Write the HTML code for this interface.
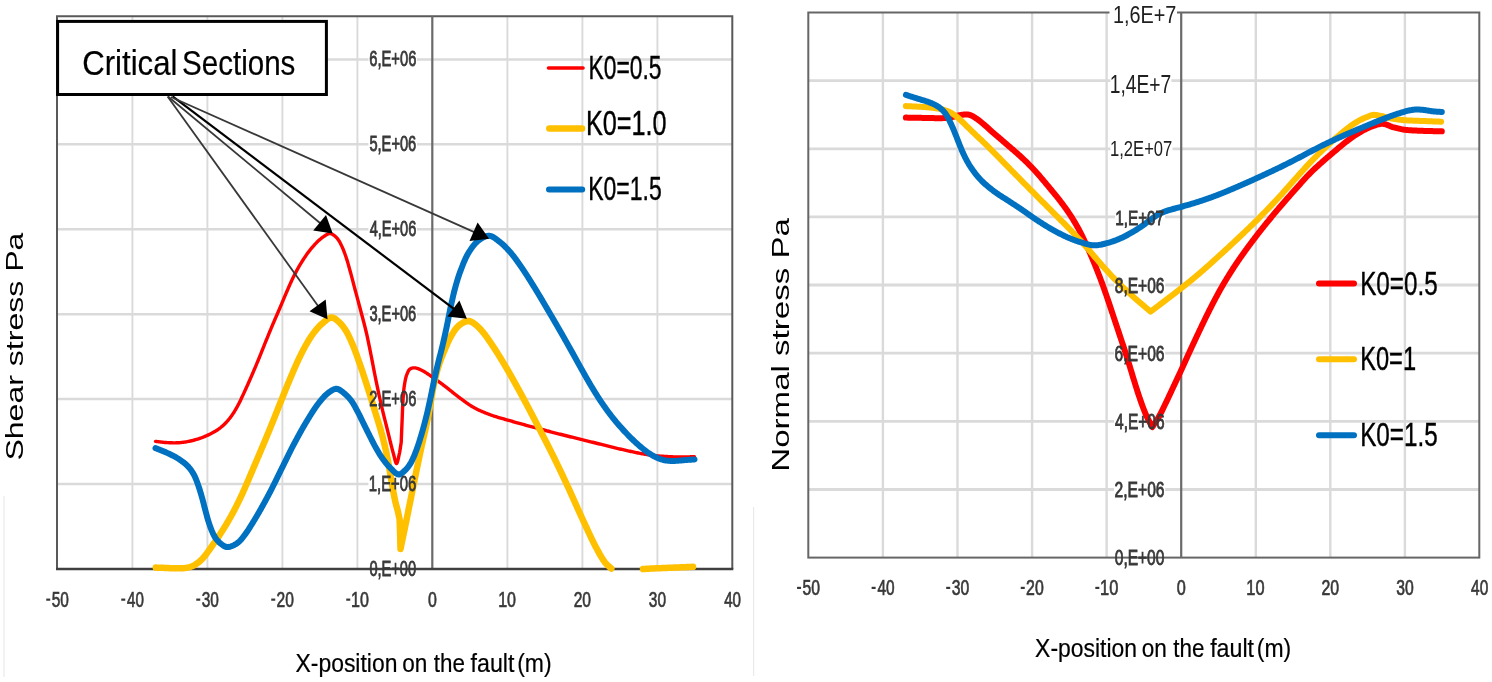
<!DOCTYPE html>
<html><head><meta charset="utf-8"><style>
html,body{margin:0;padding:0;background:#fff;}
svg{display:block;}
text{font-family:"Liberation Sans",sans-serif;font-size:100px;}
</style></head><body>
<svg width="1492" height="682" viewBox="0 0 1492 682">
<defs><filter id="soft" x="0" y="0" width="1" height="1" filterUnits="objectBoundingBox" color-interpolation-filters="sRGB"><feGaussianBlur stdDeviation="0.5"/></filter></defs>
<g filter="url(#soft)">
<rect width="1492" height="682" fill="#fff"/>
<g stroke="#DADADA" stroke-width="2.5"><line x1="57.0" y1="484.1" x2="732.3" y2="484.1"/><line x1="57.0" y1="399.1" x2="732.3" y2="399.1"/><line x1="57.0" y1="314.2" x2="732.3" y2="314.2"/><line x1="57.0" y1="229.3" x2="732.3" y2="229.3"/><line x1="57.0" y1="144.3" x2="732.3" y2="144.3"/><line x1="57.0" y1="59.4" x2="732.3" y2="59.4"/></g>
<g stroke="#DADADA" stroke-width="1.9"><line x1="132.4" y1="16.3" x2="132.4" y2="569"/><line x1="207.4" y1="16.3" x2="207.4" y2="569"/><line x1="282.4" y1="16.3" x2="282.4" y2="569"/><line x1="357.4" y1="16.3" x2="357.4" y2="569"/><line x1="507.4" y1="16.3" x2="507.4" y2="569"/><line x1="582.4" y1="16.3" x2="582.4" y2="569"/><line x1="657.4" y1="16.3" x2="657.4" y2="569"/></g>
<path d="M57.0,569 L57.0,16.3 L732.3,16.3 L732.3,569" fill="none" stroke="#595959" stroke-width="2"/>
<line x1="432.3" y1="16.3" x2="432.3" y2="569" stroke="#6A6A6A" stroke-width="2.2"/>
<line x1="56.0" y1="569" x2="733.3" y2="569" stroke="#404040" stroke-width="2.4"/>
<rect x="368.4" y="476.1" width="48.6" height="14.0" fill="#fff"/>
<rect x="368.4" y="391.1" width="48.6" height="14.0" fill="#fff"/>
<rect x="368.4" y="306.2" width="48.6" height="14.0" fill="#fff"/>
<rect x="368.4" y="221.3" width="48.6" height="14.0" fill="#fff"/>
<rect x="368.4" y="136.3" width="48.6" height="14.0" fill="#fff"/>
<rect x="368.4" y="51.4" width="48.6" height="14.0" fill="#fff"/>
<rect x="46.25" y="598.55" width="4.0" height="2.2" fill="#383838"/><text transform="matrix(0.15437 0 0 0.22553 51.73 607.49)" fill="#383838" stroke="#383838" stroke-width="0.6" vector-effect="non-scaling-stroke">50</text>
<rect x="121.25" y="598.55" width="4.0" height="2.2" fill="#383838"/><text transform="matrix(0.15143 0 0 0.22553 127.05 607.49)" fill="#383838" stroke="#383838" stroke-width="0.6" vector-effect="non-scaling-stroke">40</text>
<rect x="196.25" y="598.55" width="4.0" height="2.2" fill="#383838"/><text transform="matrix(0.15437 0 0 0.22553 201.73 607.49)" fill="#383838" stroke="#383838" stroke-width="0.6" vector-effect="non-scaling-stroke">30</text>
<rect x="271.25" y="598.55" width="4.0" height="2.2" fill="#383838"/><text transform="matrix(0.15588 0 0 0.22553 276.57 607.49)" fill="#383838" stroke="#383838" stroke-width="0.6" vector-effect="non-scaling-stroke">20</text>
<rect x="346.25" y="598.55" width="4.0" height="2.2" fill="#383838"/><text transform="matrix(0.16061 0 0 0.22553 351.07 607.49)" fill="#383838" stroke="#383838" stroke-width="0.6" vector-effect="non-scaling-stroke">10</text>
<text transform="matrix(0.15937 0 0 0.22553 427.94 607.49)" fill="#383838" stroke="#383838" stroke-width="0.6" vector-effect="non-scaling-stroke">0</text>
<text transform="matrix(0.16061 0 0 0.22553 498.17 607.49)" fill="#383838" stroke="#383838" stroke-width="0.6" vector-effect="non-scaling-stroke">10</text>
<text transform="matrix(0.15588 0 0 0.22553 573.67 607.49)" fill="#383838" stroke="#383838" stroke-width="0.6" vector-effect="non-scaling-stroke">20</text>
<text transform="matrix(0.15437 0 0 0.22553 648.83 607.49)" fill="#383838" stroke="#383838" stroke-width="0.6" vector-effect="non-scaling-stroke">30</text>
<text transform="matrix(0.15143 0 0 0.22553 724.15 607.49)" fill="#383838" stroke="#383838" stroke-width="0.6" vector-effect="non-scaling-stroke">40</text>
<text transform="matrix(0.22920 0 0 0.26667 295.51 671.67)" fill="#000" stroke="#000" stroke-width="0.2" vector-effect="non-scaling-stroke">X-position</text>
<text transform="matrix(0.22574 0 0 0.26667 402.20 671.67)" fill="#000" stroke="#000" stroke-width="0.2" vector-effect="non-scaling-stroke">on</text>
<text transform="matrix(0.22406 0 0 0.26667 433.75 671.67)" fill="#000" stroke="#000" stroke-width="0.2" vector-effect="non-scaling-stroke">the</text>
<text transform="matrix(0.23209 0 0 0.26667 470.57 671.67)" fill="#000" stroke="#000" stroke-width="0.2" vector-effect="non-scaling-stroke">fault</text>
<text transform="matrix(0.22971 0 0 0.26667 517.22 671.67)" fill="#000" stroke="#000" stroke-width="0.2" vector-effect="non-scaling-stroke">(m)</text>
<text transform="matrix(0 -0.32068 0.24823 0 23.38 460.60)" fill="#000">Shear stress Pa</text>
<path d="M155.50,441.40 L156.55,441.51 L157.60,441.63 L158.65,441.75 L159.70,441.88 L160.75,442.00 L161.80,442.13 L162.85,442.24 L163.90,442.35 L164.95,442.46 L166.01,442.54 L167.06,442.62 L168.12,442.67 L169.12,442.72 L170.12,442.76 L171.12,442.79 L172.13,442.81 L173.13,442.83 L174.14,442.84 L175.15,442.83 L176.16,442.82 L177.17,442.79 L178.18,442.75 L179.19,442.69 L180.19,442.62 L181.20,442.52 L182.23,442.41 L183.25,442.29 L184.28,442.15 L185.32,441.99 L186.35,441.82 L187.38,441.64 L188.41,441.44 L189.44,441.23 L190.46,441.01 L191.48,440.78 L192.50,440.53 L193.52,440.27 L194.53,440.00 L195.54,439.72 L196.55,439.42 L197.56,439.11 L198.58,438.78 L199.59,438.44 L200.59,438.09 L201.59,437.73 L202.59,437.36 L203.57,436.97 L204.55,436.58 L205.51,436.18 L206.46,435.77 L207.40,435.35 L208.35,434.91 L209.29,434.47 L210.23,434.01 L211.16,433.55 L212.08,433.07 L212.99,432.58 L213.88,432.08 L214.77,431.58 L215.63,431.06 L216.48,430.52 L217.31,429.98 L218.12,429.42 L219.01,428.79 L219.87,428.14 L220.71,427.48 L221.53,426.80 L222.33,426.11 L223.12,425.40 L223.89,424.68 L224.65,423.95 L225.39,423.21 L226.12,422.45 L226.85,421.68 L227.55,420.89 L228.24,420.09 L228.91,419.28 L229.58,418.45 L230.23,417.62 L230.86,416.77 L231.49,415.90 L232.11,415.03 L232.72,414.15 L233.29,413.31 L233.84,412.46 L234.39,411.60 L234.92,410.73 L235.44,409.85 L235.96,408.96 L236.47,408.06 L236.98,407.15 L237.48,406.23 L237.98,405.31 L238.48,404.38 L238.95,403.46 L239.42,402.54 L239.89,401.61 L240.34,400.67 L240.80,399.72 L241.24,398.77 L241.69,397.80 L242.14,396.83 L242.59,395.85 L243.05,394.86 L243.51,393.86 L243.97,392.85 L244.39,391.95 L244.81,391.04 L245.23,390.12 L245.66,389.20 L246.08,388.27 L246.51,387.33 L246.94,386.38 L247.37,385.43 L247.80,384.47 L248.23,383.50 L248.67,382.53 L249.10,381.55 L249.54,380.56 L249.98,379.56 L250.42,378.55 L250.82,377.65 L251.21,376.75 L251.61,375.83 L252.01,374.91 L252.41,373.98 L252.82,373.04 L253.22,372.09 L253.63,371.14 L254.03,370.19 L254.44,369.23 L254.85,368.27 L255.26,367.30 L255.67,366.33 L256.07,365.36 L256.48,364.39 L256.89,363.42 L257.29,362.44 L257.70,361.47 L258.10,360.50 L258.48,359.59 L258.85,358.67 L259.23,357.75 L259.61,356.82 L259.98,355.89 L260.36,354.95 L260.73,354.02 L261.11,353.08 L261.49,352.14 L261.86,351.20 L262.24,350.26 L262.61,349.32 L262.98,348.38 L263.36,347.44 L263.73,346.51 L264.10,345.58 L264.47,344.65 L264.84,343.73 L265.21,342.81 L265.58,341.90 L265.95,341.00 L266.35,340.01 L266.76,339.03 L267.16,338.04 L267.56,337.07 L267.96,336.09 L268.35,335.12 L268.75,334.15 L269.15,333.19 L269.54,332.23 L269.94,331.27 L270.34,330.31 L270.73,329.36 L271.13,328.41 L271.52,327.46 L271.91,326.52 L272.31,325.58 L272.70,324.64 L273.10,323.70 L273.50,322.76 L273.90,321.82 L274.30,320.89 L274.70,319.96 L275.10,319.03 L275.50,318.11 L275.90,317.19 L276.30,316.27 L276.70,315.36 L277.10,314.45 L277.49,313.53 L277.89,312.62 L278.29,311.70 L278.69,310.79 L279.08,309.87 L279.48,308.95 L279.88,308.02 L280.27,307.10 L280.66,306.17 L281.06,305.23 L281.45,304.30 L281.84,303.36 L282.23,302.43 L282.62,301.49 L283.01,300.56 L283.40,299.62 L283.79,298.69 L284.18,297.76 L284.57,296.82 L284.96,295.89 L285.36,294.97 L285.75,294.04 L286.15,293.12 L286.55,292.20 L286.97,291.24 L287.38,290.29 L287.80,289.33 L288.21,288.37 L288.63,287.42 L289.04,286.47 L289.46,285.51 L289.88,284.57 L290.30,283.62 L290.73,282.68 L291.15,281.74 L291.58,280.81 L292.02,279.88 L292.46,278.95 L292.90,278.04 L293.35,277.12 L293.82,276.19 L294.29,275.26 L294.76,274.34 L295.24,273.41 L295.72,272.49 L296.21,271.58 L296.70,270.67 L297.19,269.76 L297.69,268.86 L298.18,267.97 L298.68,267.09 L299.18,266.22 L299.69,265.35 L300.19,264.49 L300.70,263.65 L301.24,262.76 L301.79,261.88 L302.34,261.00 L302.90,260.13 L303.45,259.26 L304.01,258.41 L304.57,257.57 L305.14,256.74 L305.70,255.92 L306.26,255.12 L306.82,254.33 L307.37,253.56 L307.93,252.80 L308.61,251.88 L309.29,250.98 L309.98,250.11 L310.66,249.26 L311.34,248.42 L312.02,247.61 L312.70,246.81 L313.37,246.04 L314.05,245.27 L314.82,244.43 L315.58,243.61 L316.35,242.81 L317.11,242.04 L317.88,241.29 L318.65,240.57 L319.43,239.88 L320.26,239.16 L321.10,238.46 L321.95,237.80 L322.80,237.16 L323.66,236.56 L324.52,236.00 L325.51,235.36 L326.51,234.70 L327.52,234.12 L328.52,233.69 L329.50,233.50 L330.62,233.62 L331.74,234.02 L332.83,234.59 L333.88,235.25 L334.76,235.90 L335.61,236.65 L336.44,237.49 L337.23,238.40 L338.00,239.38 L338.55,240.15 L339.08,240.97 L339.60,241.84 L340.09,242.74 L340.58,243.68 L341.06,244.64 L341.53,245.63 L342.00,246.63 L342.39,247.48 L342.77,248.36 L343.15,249.25 L343.52,250.17 L343.88,251.10 L344.24,252.04 L344.60,253.00 L344.95,253.98 L345.30,254.97 L345.65,255.98 L346.00,257.00 L346.31,257.94 L346.62,258.89 L346.93,259.86 L347.23,260.84 L347.53,261.84 L347.83,262.84 L348.12,263.86 L348.42,264.89 L348.71,265.93 L349.01,266.98 L349.30,268.03 L349.60,269.10 L349.90,270.17 L350.20,271.25 L350.47,272.20 L350.73,273.17 L350.99,274.14 L351.26,275.13 L351.52,276.12 L351.79,277.11 L352.05,278.12 L352.31,279.13 L352.58,280.15 L352.85,281.17 L353.11,282.20 L353.38,283.24 L353.65,284.27 L353.92,285.31 L354.20,286.36 L354.47,287.40 L354.75,288.45 L355.02,289.50 L355.28,290.47 L355.55,291.44 L355.81,292.42 L356.07,293.41 L356.34,294.40 L356.61,295.39 L356.88,296.39 L357.15,297.39 L357.43,298.40 L357.70,299.40 L357.97,300.41 L358.24,301.42 L358.52,302.43 L358.79,303.44 L359.06,304.46 L359.34,305.47 L359.61,306.48 L359.88,307.49 L360.14,308.49 L360.41,309.50 L360.67,310.50 L360.94,311.50 L361.20,312.50 L361.47,313.50 L361.73,314.50 L362.00,315.50 L362.26,316.49 L362.53,317.49 L362.79,318.49 L363.05,319.49 L363.32,320.49 L363.58,321.49 L363.84,322.49 L364.10,323.49 L364.35,324.49 L364.61,325.49 L364.86,326.49 L365.11,327.49 L365.35,328.49 L365.60,329.50 L365.84,330.50 L366.08,331.50 L366.31,332.50 L366.54,333.49 L366.76,334.48 L366.98,335.48 L367.20,336.47 L367.42,337.46 L367.63,338.45 L367.84,339.44 L368.05,340.43 L368.26,341.42 L368.47,342.41 L368.67,343.41 L368.88,344.41 L369.08,345.41 L369.29,346.41 L369.49,347.41 L369.70,348.42 L369.90,349.44 L370.11,350.45 L370.32,351.47 L370.52,352.50 L370.73,353.50 L370.93,354.50 L371.13,355.50 L371.33,356.52 L371.53,357.53 L371.72,358.56 L371.92,359.58 L372.12,360.61 L372.32,361.64 L372.51,362.67 L372.71,363.70 L372.91,364.74 L373.11,365.77 L373.30,366.80 L373.50,367.84 L373.70,368.87 L373.90,369.90 L374.10,370.92 L374.30,371.95 L374.50,372.97 L374.70,373.98 L374.90,374.99 L375.10,376.00 L375.30,377.01 L375.51,378.03 L375.72,379.05 L375.92,380.07 L376.13,381.09 L376.34,382.11 L376.55,383.13 L376.76,384.15 L376.97,385.17 L377.18,386.18 L377.39,387.19 L377.60,388.19 L377.81,389.20 L378.02,390.19 L378.23,391.18 L378.44,392.16 L378.64,393.14 L378.85,394.10 L379.06,395.06 L379.27,396.01 L379.47,396.95 L379.68,397.88 L379.92,398.97 L380.16,400.05 L380.40,401.11 L380.64,402.17 L380.88,403.21 L381.12,404.25 L381.36,405.28 L381.60,406.30 L381.84,407.31 L382.08,408.31 L382.31,409.31 L382.55,410.31 L382.79,411.30 L383.03,412.28 L383.26,413.27 L383.50,414.25 L383.75,415.28 L384.00,416.31 L384.25,417.33 L384.51,418.34 L384.76,419.34 L385.01,420.33 L385.26,421.33 L385.51,422.32 L385.76,423.30 L386.01,424.29 L386.26,425.28 L386.51,426.27 L386.75,427.26 L387.00,428.25 L387.24,429.24 L387.49,430.23 L387.73,431.22 L387.97,432.22 L388.21,433.21 L388.45,434.20 L388.70,435.19 L388.94,436.18 L389.18,437.16 L389.42,438.14 L389.66,439.12 L389.90,440.09 L390.14,441.05 L390.38,442.00 L390.64,443.03 L390.89,444.07 L391.15,445.09 L391.41,446.12 L391.67,447.13 L391.92,448.14 L392.18,449.15 L392.44,450.14 L392.70,451.12 L392.97,452.10 L393.23,453.05 L393.50,454.00 L393.83,455.21 L394.16,456.56 L394.50,457.96 L394.83,459.35 L395.17,460.65 L395.51,461.79 L395.85,462.69 L396.18,463.29 L396.50,463.50 L396.81,463.30 L397.13,462.73 L397.44,461.88 L397.75,460.81 L398.06,459.58 L398.35,458.27 L398.64,456.94 L398.92,455.66 L399.18,454.50 L399.38,453.57 L399.58,452.61 L399.76,451.63 L399.93,450.64 L400.10,449.63 L400.26,448.62 L400.41,447.59 L400.57,446.57 L400.72,445.54 L400.88,444.52 L401.03,443.51 L401.20,442.50 L401.20,442.50 L401.24,441.46 L401.29,440.41 L401.33,439.36 L401.37,438.31 L401.41,437.26 L401.46,436.21 L401.50,435.16 L401.54,434.11 L401.59,433.06 L401.63,432.00 L401.67,430.95 L401.71,429.91 L401.76,428.86 L401.80,427.82 L401.84,426.78 L401.89,425.74 L401.93,424.71 L401.97,423.68 L402.01,422.66 L402.06,421.64 L402.10,420.62 L402.14,419.57 L402.19,418.53 L402.23,417.48 L402.27,416.43 L402.31,415.39 L402.34,414.35 L402.38,413.31 L402.42,412.27 L402.46,411.24 L402.50,410.21 L402.54,409.19 L402.58,408.18 L402.63,407.17 L402.67,406.16 L402.72,405.17 L402.78,404.17 L402.83,403.19 L402.89,402.22 L402.95,401.25 L403.02,400.16 L403.09,399.07 L403.16,397.99 L403.23,396.92 L403.31,395.85 L403.38,394.79 L403.46,393.74 L403.54,392.70 L403.63,391.67 L403.73,390.65 L403.83,389.64 L403.94,388.64 L404.06,387.66 L404.19,386.70 L404.32,385.75 L404.49,384.66 L404.67,383.58 L404.84,382.50 L405.03,381.44 L405.23,380.40 L405.44,379.37 L405.66,378.38 L405.90,377.42 L406.16,376.49 L406.44,375.60 L406.75,374.75 L407.21,373.58 L407.68,372.44 L408.19,371.36 L408.75,370.39 L409.39,369.56 L410.12,368.90 L411.02,368.40 L412.02,368.08 L413.10,367.90 L414.22,367.86 L415.35,367.92 L416.25,368.07 L417.18,368.32 L418.13,368.66 L419.11,369.07 L420.10,369.53 L421.09,370.03 L422.10,370.55 L423.10,371.07 L423.97,371.55 L424.85,372.05 L425.73,372.59 L426.62,373.15 L427.51,373.73 L428.42,374.34 L429.33,374.96 L430.24,375.60 L431.17,376.24 L432.11,376.89 L433.05,377.55 L433.85,378.11 L434.67,378.68 L435.49,379.26 L436.32,379.86 L437.16,380.46 L438.00,381.07 L438.85,381.69 L439.70,382.32 L440.55,382.95 L441.41,383.59 L442.27,384.23 L443.13,384.88 L443.98,385.53 L444.84,386.18 L445.70,386.82 L446.50,387.44 L447.30,388.06 L448.10,388.68 L448.90,389.32 L449.70,389.96 L450.51,390.61 L451.31,391.25 L452.12,391.90 L452.93,392.56 L453.74,393.21 L454.55,393.86 L455.36,394.50 L456.18,395.14 L457.00,395.78 L457.82,396.41 L458.65,397.04 L459.47,397.65 L460.30,398.26 L461.13,398.87 L461.95,399.48 L462.78,400.09 L463.60,400.70 L464.43,401.31 L465.26,401.92 L466.09,402.52 L466.93,403.11 L467.77,403.70 L468.62,404.28 L469.47,404.85 L470.33,405.41 L471.20,405.96 L472.07,406.49 L472.96,407.02 L473.85,407.52 L474.76,408.03 L475.68,408.51 L476.61,408.99 L477.54,409.45 L478.48,409.91 L479.42,410.35 L480.37,410.78 L481.33,411.21 L482.29,411.63 L483.26,412.04 L484.24,412.44 L485.22,412.84 L486.22,413.23 L487.22,413.62 L488.23,414.01 L489.25,414.39 L490.28,414.77 L491.19,415.11 L492.11,415.43 L493.04,415.75 L493.98,416.07 L494.92,416.37 L495.87,416.67 L496.82,416.97 L497.78,417.26 L498.75,417.55 L499.72,417.83 L500.70,418.12 L501.68,418.40 L502.67,418.68 L503.67,418.96 L504.67,419.24 L505.68,419.52 L506.69,419.81 L507.71,420.09 L508.73,420.38 L509.76,420.68 L510.80,420.97 L511.71,421.24 L512.64,421.50 L513.57,421.77 L514.50,422.04 L515.44,422.30 L516.39,422.57 L517.35,422.84 L518.31,423.11 L519.27,423.38 L520.24,423.65 L521.21,423.92 L522.19,424.19 L523.17,424.46 L524.15,424.73 L525.13,425.00 L526.12,425.27 L527.11,425.54 L528.11,425.81 L529.10,426.08 L530.09,426.35 L531.09,426.62 L532.08,426.89 L533.08,427.16 L534.07,427.43 L535.07,427.69 L536.06,427.96 L537.05,428.23 L538.00,428.48 L538.96,428.73 L539.92,428.99 L540.88,429.24 L541.85,429.50 L542.81,429.75 L543.78,430.01 L544.75,430.26 L545.72,430.51 L546.69,430.77 L547.67,431.02 L548.64,431.27 L549.62,431.52 L550.59,431.78 L551.57,432.03 L552.54,432.28 L553.52,432.53 L554.50,432.78 L555.48,433.03 L556.45,433.28 L557.43,433.53 L558.40,433.78 L559.38,434.03 L560.35,434.27 L561.32,434.52 L562.30,434.77 L563.27,435.01 L564.23,435.26 L565.20,435.50 L566.19,435.75 L567.17,436.00 L568.15,436.24 L569.13,436.49 L570.11,436.73 L571.10,436.98 L572.07,437.22 L573.05,437.46 L574.03,437.70 L575.01,437.95 L575.99,438.19 L576.96,438.43 L577.94,438.67 L578.92,438.91 L579.90,439.15 L580.87,439.39 L581.85,439.63 L582.83,439.87 L583.81,440.11 L584.79,440.35 L585.77,440.59 L586.75,440.83 L587.73,441.07 L588.71,441.31 L589.69,441.55 L590.68,441.79 L591.66,442.03 L592.65,442.27 L593.62,442.51 L594.59,442.76 L595.56,443.00 L596.53,443.24 L597.51,443.49 L598.48,443.73 L599.46,443.98 L600.43,444.22 L601.41,444.47 L602.39,444.72 L603.37,444.97 L604.35,445.21 L605.32,445.46 L606.30,445.71 L607.28,445.95 L608.26,446.20 L609.24,446.44 L610.22,446.68 L611.20,446.92 L612.17,447.16 L613.15,447.40 L614.13,447.64 L615.10,447.87 L616.07,448.11 L617.05,448.33 L618.02,448.56 L618.99,448.79 L619.96,449.01 L620.92,449.22 L621.94,449.45 L622.95,449.68 L623.96,449.91 L624.97,450.14 L625.98,450.36 L627.00,450.59 L628.01,450.82 L629.02,451.04 L630.03,451.27 L631.04,451.49 L632.06,451.71 L633.06,451.93 L634.07,452.15 L635.08,452.36 L636.08,452.57 L637.09,452.77 L638.09,452.97 L639.09,453.17 L640.09,453.36 L641.08,453.55 L642.07,453.73 L643.06,453.91 L644.04,454.08 L645.03,454.25 L646.00,454.40 L646.98,454.56 L647.95,454.70 L649.00,454.85 L650.04,454.99 L651.08,455.13 L652.11,455.26 L653.14,455.38 L654.16,455.50 L655.18,455.61 L656.20,455.71 L657.22,455.82 L658.23,455.91 L659.24,456.00 L660.25,456.09 L661.26,456.17 L662.27,456.25 L663.28,456.32 L664.28,456.39 L665.29,456.45 L666.30,456.51 L667.30,456.57 L668.31,456.63 L669.32,456.68 L670.34,456.73 L671.35,456.78 L672.36,456.82 L673.37,456.85 L674.37,456.88 L675.38,456.90 L676.39,456.92 L677.39,456.93 L678.40,456.93 L679.41,456.93 L680.41,456.93 L681.42,456.93 L682.43,456.92 L683.43,456.91 L684.44,456.90 L685.44,456.88 L686.45,456.87 L687.46,456.86 L688.46,456.84 L689.47,456.83 L690.47,456.82 L691.48,456.81 L692.49,456.80 L693.49,456.80 L694.50,456.80" fill="none" stroke="#FF0000" stroke-width="3.4" stroke-linecap="round" stroke-linejoin="round"/>
<path d="M155.80,567.60 L156.84,567.64 L157.89,567.67 L158.93,567.71 L159.97,567.74 L161.01,567.78 L162.05,567.81 L163.10,567.85 L164.15,567.89 L165.20,567.92 L166.28,567.97 L167.37,568.02 L168.47,568.08 L169.56,568.13 L170.66,568.19 L171.76,568.24 L172.85,568.28 L173.93,568.31 L175.00,568.33 L176.02,568.34 L177.05,568.35 L178.08,568.35 L179.10,568.36 L180.11,568.35 L181.12,568.32 L182.10,568.28 L183.06,568.21 L184.00,568.12 L185.20,567.98 L186.37,567.81 L187.51,567.60 L188.62,567.36 L189.70,567.08 L190.75,566.75 L191.87,566.33 L192.95,565.84 L193.99,565.31 L195.00,564.74 L196.00,564.12 L196.83,563.57 L197.65,562.98 L198.45,562.36 L199.24,561.72 L200.00,561.05 L200.75,560.38 L201.48,559.67 L202.19,558.95 L202.88,558.21 L203.55,557.44 L204.22,556.67 L204.88,555.88 L205.54,555.04 L206.18,554.20 L206.82,553.34 L207.45,552.45 L208.09,551.55 L208.75,550.62 L209.33,549.82 L209.91,549.00 L210.50,548.16 L211.10,547.31 L211.71,546.44 L212.32,545.56 L212.94,544.66 L213.57,543.75 L214.16,542.91 L214.75,542.06 L215.34,541.20 L215.95,540.33 L216.56,539.45 L217.18,538.55 L217.80,537.65 L218.41,536.73 L219.03,535.81 L219.65,534.88 L220.21,534.02 L220.77,533.16 L221.33,532.30 L221.90,531.42 L222.46,530.54 L223.03,529.64 L223.60,528.74 L224.16,527.84 L224.73,526.92 L225.30,526.00 L225.86,525.06 L226.42,524.12 L226.95,523.25 L227.47,522.36 L227.99,521.47 L228.52,520.57 L229.04,519.67 L229.56,518.75 L230.09,517.83 L230.61,516.91 L231.13,515.98 L231.65,515.04 L232.16,514.10 L232.68,513.15 L233.19,512.20 L233.70,511.25 L234.17,510.37 L234.63,509.47 L235.10,508.58 L235.57,507.67 L236.03,506.76 L236.49,505.84 L236.95,504.92 L237.41,504.00 L237.87,503.08 L238.32,502.15 L238.78,501.23 L239.22,500.30 L239.67,499.38 L240.11,498.46 L240.54,497.54 L240.98,496.62 L241.42,495.68 L241.85,494.73 L242.29,493.79 L242.72,492.84 L243.14,491.89 L243.56,490.95 L243.98,490.00 L244.40,489.06 L244.81,488.12 L245.22,487.18 L245.63,486.24 L246.04,485.30 L246.44,484.36 L246.85,483.43 L247.25,482.50 L247.67,481.54 L248.08,480.59 L248.48,479.65 L248.88,478.70 L249.28,477.77 L249.68,476.83 L250.08,475.89 L250.48,474.95 L250.87,474.01 L251.27,473.07 L251.67,472.12 L252.08,471.16 L252.49,470.20 L252.90,469.23 L253.29,468.31 L253.68,467.40 L254.07,466.47 L254.47,465.55 L254.87,464.62 L255.26,463.68 L255.66,462.75 L256.07,461.81 L256.47,460.86 L256.87,459.92 L257.27,458.97 L257.68,458.02 L258.08,457.07 L258.49,456.11 L258.89,455.16 L259.30,454.20 L259.70,453.27 L260.09,452.33 L260.49,451.39 L260.89,450.44 L261.29,449.50 L261.69,448.55 L262.09,447.60 L262.49,446.65 L262.89,445.70 L263.29,444.74 L263.69,443.79 L264.10,442.83 L264.50,441.87 L264.90,440.91 L265.30,439.95 L265.70,438.99 L266.10,438.02 L266.48,437.10 L266.87,436.17 L267.25,435.24 L267.63,434.32 L268.01,433.39 L268.40,432.46 L268.78,431.54 L269.16,430.61 L269.54,429.67 L269.92,428.74 L270.31,427.80 L270.69,426.86 L271.07,425.91 L271.46,424.96 L271.85,424.00 L272.24,423.04 L272.63,422.07 L273.02,421.10 L273.39,420.19 L273.76,419.28 L274.13,418.36 L274.50,417.44 L274.87,416.51 L275.24,415.58 L275.61,414.64 L275.98,413.70 L276.36,412.76 L276.73,411.82 L277.11,410.87 L277.49,409.92 L277.86,408.96 L278.24,408.01 L278.62,407.05 L279.01,406.10 L279.39,405.14 L279.77,404.18 L280.15,403.22 L280.54,402.26 L280.92,401.30 L281.31,400.35 L281.69,399.39 L282.08,398.42 L282.47,397.45 L282.86,396.48 L283.25,395.51 L283.64,394.53 L284.04,393.55 L284.43,392.57 L284.83,391.59 L285.22,390.61 L285.62,389.63 L286.01,388.65 L286.41,387.67 L286.81,386.70 L287.20,385.73 L287.60,384.76 L288.00,383.80 L288.39,382.84 L288.79,381.89 L289.18,380.94 L289.58,380.00 L289.98,379.03 L290.39,378.06 L290.80,377.09 L291.21,376.12 L291.61,375.16 L292.02,374.19 L292.43,373.23 L292.84,372.28 L293.24,371.32 L293.65,370.38 L294.06,369.43 L294.47,368.49 L294.88,367.56 L295.29,366.63 L295.69,365.71 L296.10,364.79 L296.51,363.88 L296.93,362.98 L297.34,362.09 L297.75,361.20 L298.22,360.20 L298.68,359.22 L299.14,358.24 L299.61,357.27 L300.07,356.30 L300.53,355.35 L300.99,354.40 L301.46,353.45 L301.93,352.52 L302.39,351.59 L302.87,350.67 L303.34,349.75 L303.83,348.84 L304.31,347.94 L304.80,347.04 L305.30,346.15 L305.84,345.19 L306.38,344.24 L306.93,343.29 L307.47,342.35 L308.03,341.41 L308.58,340.48 L309.14,339.56 L309.71,338.65 L310.28,337.76 L310.86,336.87 L311.45,335.99 L312.05,335.13 L312.66,334.28 L313.27,333.45 L313.91,332.62 L314.55,331.79 L315.20,330.98 L315.86,330.17 L316.52,329.37 L317.19,328.59 L317.87,327.82 L318.56,327.07 L319.26,326.34 L319.96,325.63 L320.67,324.93 L321.39,324.27 L322.12,323.62 L322.94,322.92 L323.77,322.18 L324.63,321.43 L325.49,320.69 L326.37,319.98 L327.25,319.32 L328.12,318.73 L328.99,318.24 L329.85,317.85 L330.68,317.60 L331.50,317.50 L332.46,317.60 L333.40,317.89 L334.34,318.36 L335.26,318.95 L336.17,319.63 L337.06,320.37 L337.93,321.13 L338.77,321.88 L339.52,322.54 L340.24,323.25 L340.95,324.00 L341.64,324.79 L342.32,325.61 L342.99,326.46 L343.65,327.34 L344.29,328.24 L344.92,329.17 L345.55,330.12 L346.07,330.95 L346.57,331.79 L347.06,332.66 L347.54,333.55 L348.02,334.46 L348.48,335.38 L348.94,336.33 L349.40,337.29 L349.85,338.27 L350.30,339.27 L350.75,340.27 L351.20,341.30 L351.65,342.33 L352.10,343.37 L352.48,344.26 L352.85,345.15 L353.23,346.06 L353.60,346.98 L353.97,347.91 L354.34,348.86 L354.71,349.81 L355.08,350.77 L355.44,351.75 L355.81,352.73 L356.17,353.72 L356.53,354.72 L356.90,355.73 L357.26,356.74 L357.63,357.75 L357.99,358.78 L358.35,359.80 L358.72,360.83 L359.08,361.87 L359.45,362.90 L359.78,363.83 L360.10,364.76 L360.43,365.71 L360.76,366.66 L361.09,367.62 L361.42,368.58 L361.75,369.56 L362.08,370.53 L362.41,371.51 L362.74,372.50 L363.07,373.49 L363.40,374.48 L363.72,375.48 L364.05,376.48 L364.38,377.48 L364.71,378.48 L365.03,379.48 L365.36,380.48 L365.68,381.48 L366.00,382.48 L366.33,383.48 L366.65,384.48 L366.97,385.47 L367.28,386.46 L367.60,387.45 L367.91,388.43 L368.23,389.42 L368.54,390.41 L368.86,391.40 L369.17,392.39 L369.48,393.39 L369.79,394.38 L370.10,395.38 L370.41,396.37 L370.72,397.37 L371.03,398.36 L371.33,399.36 L371.64,400.35 L371.94,401.34 L372.25,402.33 L372.55,403.32 L372.85,404.31 L373.15,405.29 L373.45,406.28 L373.75,407.26 L374.05,408.23 L374.34,409.21 L374.64,410.17 L374.93,411.14 L375.22,412.10 L375.54,413.12 L375.85,414.14 L376.16,415.15 L376.48,416.15 L376.79,417.15 L377.10,418.15 L377.41,419.14 L377.71,420.13 L378.02,421.12 L378.33,422.10 L378.63,423.09 L378.93,424.08 L379.23,425.06 L379.53,426.05 L379.83,427.04 L380.12,428.03 L380.41,429.02 L380.70,430.02 L380.99,431.03 L381.27,432.04 L381.55,433.05 L381.82,434.08 L382.08,435.05 L382.34,436.03 L382.60,437.01 L382.85,438.00 L383.10,438.99 L383.35,439.97 L383.60,440.97 L383.84,441.96 L384.09,442.95 L384.33,443.95 L384.57,444.95 L384.80,445.95 L385.04,446.96 L385.27,447.97 L385.50,448.97 L385.73,449.99 L385.95,451.00 L386.18,452.01 L386.40,453.03 L386.62,454.05 L386.84,455.07 L387.05,456.10 L387.26,457.12 L387.48,458.15 L387.67,459.14 L387.87,460.15 L388.07,461.16 L388.26,462.19 L388.45,463.22 L388.63,464.25 L388.82,465.29 L389.00,466.34 L389.18,467.39 L389.36,468.44 L389.53,469.49 L389.71,470.54 L389.88,471.59 L390.05,472.63 L390.22,473.67 L390.39,474.71 L390.56,475.73 L390.73,476.76 L390.89,477.77 L391.06,478.77 L391.22,479.76 L391.39,480.74 L391.55,481.70 L391.72,482.65 L391.88,483.58 L392.05,484.50 L392.25,485.63 L392.46,486.74 L392.66,487.85 L392.86,488.96 L393.06,490.05 L393.25,491.13 L393.45,492.19 L393.64,493.25 L393.84,494.28 L394.03,495.30 L394.22,496.30 L394.41,497.29 L394.61,498.25 L394.80,499.18 L394.99,500.10 L395.18,500.99 L395.38,501.85 L395.64,502.97 L395.91,504.04 L396.18,505.05 L396.45,506.02 L396.71,506.97 L396.97,507.91 L397.23,508.84 L397.48,509.79 L397.73,510.75 L397.98,511.81 L398.22,512.87 L398.46,513.93 L398.69,514.99 L398.91,516.04 L399.14,517.09 L399.37,518.14 L399.60,519.20 L399.60,519.20 L399.64,520.22 L399.67,521.25 L399.71,522.28 L399.74,523.31 L399.78,524.33 L399.82,525.36 L399.85,526.39 L399.89,527.42 L399.93,528.44 L399.96,529.47 L400.00,530.49 L400.03,531.51 L400.06,532.53 L400.09,533.54 L400.13,534.55 L400.16,535.60 L400.19,536.64 L400.21,537.68 L400.24,538.71 L400.27,539.74 L400.29,540.77 L400.32,541.80 L400.35,542.83 L400.37,543.86 L400.40,544.88 L400.42,545.91 L400.45,546.94 L400.47,547.97 L400.50,549.00 L400.50,549.00 L400.71,547.99 L400.92,546.97 L401.13,545.96 L401.34,544.95 L401.55,543.95 L401.76,542.94 L401.97,541.93 L402.17,540.93 L402.38,539.92 L402.59,538.91 L402.80,537.91 L403.01,536.90 L403.22,535.88 L403.43,534.87 L403.64,533.86 L403.85,532.84 L404.06,531.82 L404.27,530.79 L404.49,529.76 L404.70,528.73 L404.91,527.69 L405.12,526.65 L405.32,525.68 L405.52,524.70 L405.72,523.72 L405.92,522.73 L406.13,521.75 L406.33,520.76 L406.53,519.77 L406.73,518.78 L406.93,517.78 L407.13,516.78 L407.33,515.79 L407.54,514.78 L407.74,513.78 L407.94,512.77 L408.15,511.77 L408.35,510.76 L408.56,509.75 L408.76,508.73 L408.96,507.72 L409.17,506.70 L409.38,505.68 L409.58,504.66 L409.79,503.64 L409.99,502.62 L410.20,501.60 L410.40,500.61 L410.60,499.62 L410.80,498.62 L411.00,497.62 L411.20,496.62 L411.41,495.61 L411.61,494.60 L411.81,493.59 L412.01,492.58 L412.21,491.57 L412.42,490.55 L412.62,489.54 L412.82,488.52 L413.03,487.50 L413.23,486.49 L413.44,485.47 L413.64,484.45 L413.85,483.43 L414.05,482.42 L414.26,481.40 L414.46,480.38 L414.67,479.37 L414.87,478.36 L415.08,477.35 L415.29,476.34 L415.49,475.33 L415.70,474.32 L415.90,473.33 L416.11,472.34 L416.32,471.34 L416.52,470.34 L416.73,469.34 L416.94,468.33 L417.15,467.33 L417.35,466.33 L417.56,465.33 L417.77,464.32 L417.98,463.32 L418.19,462.32 L418.40,461.32 L418.61,460.33 L418.82,459.33 L419.03,458.34 L419.23,457.35 L419.44,456.37 L419.65,455.38 L419.86,454.41 L420.07,453.43 L420.27,452.46 L420.48,451.50 L420.69,450.54 L420.89,449.59 L421.10,448.64 L421.30,447.70 L421.53,446.66 L421.75,445.63 L421.98,444.60 L422.21,443.58 L422.44,442.56 L422.67,441.55 L422.90,440.55 L423.13,439.55 L423.36,438.55 L423.58,437.56 L423.81,436.57 L424.04,435.59 L424.26,434.60 L424.48,433.62 L424.70,432.64 L424.92,431.67 L425.14,430.69 L425.36,429.72 L425.57,428.75 L425.78,427.77 L425.99,426.80 L426.20,425.82 L426.41,424.80 L426.63,423.79 L426.83,422.78 L427.04,421.77 L427.24,420.76 L427.45,419.76 L427.65,418.76 L427.85,417.77 L428.04,416.77 L428.24,415.78 L428.43,414.78 L428.63,413.79 L428.82,412.79 L429.01,411.79 L429.20,410.79 L429.39,409.79 L429.58,408.79 L429.77,407.78 L429.96,406.77 L430.15,405.75 L430.33,404.75 L430.51,403.75 L430.69,402.73 L430.86,401.72 L431.04,400.70 L431.21,399.68 L431.37,398.66 L431.54,397.63 L431.71,396.61 L431.88,395.58 L432.05,394.56 L432.22,393.54 L432.39,392.52 L432.56,391.50 L432.74,390.48 L432.92,389.47 L433.11,388.46 L433.30,387.46 L433.49,386.47 L433.69,385.48 L433.90,384.50 L434.12,383.48 L434.34,382.46 L434.57,381.45 L434.80,380.43 L435.03,379.42 L435.26,378.42 L435.50,377.42 L435.74,376.42 L435.98,375.43 L436.23,374.44 L436.48,373.45 L436.74,372.47 L437.00,371.49 L437.26,370.52 L437.54,369.56 L437.81,368.60 L438.09,367.64 L438.38,366.69 L438.68,365.75 L438.99,364.76 L439.32,363.79 L439.65,362.81 L439.98,361.84 L440.33,360.88 L440.68,359.92 L441.03,358.97 L441.39,358.02 L441.76,357.08 L442.13,356.15 L442.50,355.22 L442.87,354.29 L443.24,353.37 L443.62,352.46 L444.00,351.55 L444.37,350.65 L444.75,349.75 L445.18,348.74 L445.60,347.72 L446.03,346.71 L446.46,345.70 L446.90,344.70 L447.33,343.70 L447.77,342.72 L448.22,341.74 L448.67,340.78 L449.12,339.84 L449.58,338.91 L450.05,338.00 L450.52,337.11 L451.00,336.25 L451.53,335.32 L452.07,334.40 L452.61,333.49 L453.16,332.60 L453.71,331.72 L454.28,330.88 L454.85,330.06 L455.43,329.27 L456.02,328.51 L456.63,327.80 L457.25,327.12 L458.09,326.29 L458.96,325.51 L459.85,324.79 L460.76,324.12 L461.67,323.52 L462.59,322.97 L463.50,322.50 L464.59,321.99 L465.69,321.53 L466.80,321.19 L467.90,320.99 L469.00,321.00 L469.98,321.21 L470.96,321.59 L471.94,322.11 L472.92,322.73 L473.90,323.41 L474.88,324.12 L475.60,324.68 L476.33,325.27 L477.05,325.89 L477.77,326.55 L478.49,327.25 L479.22,327.99 L479.95,328.76 L480.69,329.56 L481.44,330.40 L482.20,331.27 L482.75,331.93 L483.31,332.61 L483.88,333.31 L484.45,334.04 L485.02,334.79 L485.60,335.56 L486.18,336.35 L486.76,337.15 L487.35,337.97 L487.94,338.81 L488.53,339.66 L489.13,340.52 L489.72,341.39 L490.32,342.27 L490.92,343.16 L491.52,344.05 L492.12,344.95 L492.72,345.85 L493.32,346.75 L493.84,347.53 L494.37,348.32 L494.89,349.13 L495.41,349.94 L495.94,350.76 L496.47,351.59 L497.00,352.42 L497.53,353.27 L498.07,354.12 L498.60,354.97 L499.14,355.84 L499.67,356.71 L500.21,357.58 L500.75,358.46 L501.29,359.35 L501.83,360.24 L502.37,361.13 L502.90,362.03 L503.44,362.93 L503.98,363.83 L504.52,364.73 L505.06,365.64 L505.59,366.55 L506.13,367.46 L506.67,368.37 L507.20,369.27 L507.70,370.12 L508.19,370.98 L508.69,371.83 L509.19,372.69 L509.68,373.56 L510.18,374.42 L510.68,375.30 L511.17,376.17 L511.67,377.05 L512.17,377.93 L512.66,378.81 L513.16,379.69 L513.66,380.58 L514.15,381.47 L514.65,382.36 L515.15,383.26 L515.64,384.16 L516.14,385.06 L516.64,385.96 L517.13,386.86 L517.63,387.77 L518.13,388.67 L518.62,389.58 L519.12,390.49 L519.62,391.40 L520.11,392.32 L520.61,393.23 L521.11,394.14 L521.60,395.06 L522.10,395.97 L522.57,396.85 L523.05,397.73 L523.52,398.61 L523.99,399.49 L524.47,400.37 L524.94,401.26 L525.42,402.15 L525.89,403.04 L526.37,403.94 L526.84,404.83 L527.32,405.73 L527.79,406.63 L528.27,407.53 L528.74,408.44 L529.22,409.34 L529.69,410.24 L530.17,411.15 L530.64,412.05 L531.11,412.96 L531.59,413.87 L532.06,414.78 L532.53,415.68 L533.01,416.59 L533.48,417.50 L533.95,418.40 L534.42,419.31 L534.89,420.22 L535.36,421.12 L535.83,422.02 L536.30,422.93 L536.77,423.83 L537.23,424.73 L537.70,425.62 L538.18,426.54 L538.65,427.46 L539.13,428.37 L539.60,429.29 L540.08,430.21 L540.55,431.12 L541.03,432.03 L541.50,432.95 L541.97,433.86 L542.45,434.78 L542.92,435.69 L543.39,436.60 L543.86,437.52 L544.33,438.43 L544.80,439.35 L545.27,440.26 L545.74,441.17 L546.21,442.09 L546.68,443.00 L547.15,443.92 L547.61,444.83 L548.08,445.75 L548.55,446.67 L549.01,447.58 L549.48,448.50 L549.94,449.42 L550.40,450.34 L550.86,451.26 L551.32,452.18 L551.78,453.10 L552.24,454.03 L552.70,454.95 L553.15,455.85 L553.59,456.75 L554.03,457.65 L554.47,458.55 L554.91,459.45 L555.35,460.35 L555.79,461.25 L556.23,462.15 L556.66,463.04 L557.10,463.94 L557.53,464.84 L557.97,465.74 L558.40,466.65 L558.84,467.55 L559.27,468.45 L559.70,469.35 L560.13,470.26 L560.56,471.16 L560.99,472.07 L561.43,472.98 L561.86,473.89 L562.29,474.80 L562.72,475.71 L563.15,476.62 L563.58,477.54 L564.01,478.46 L564.45,479.38 L564.88,480.30 L565.31,481.23 L565.75,482.15 L566.18,483.08 L566.61,484.02 L567.05,484.95 L567.47,485.85 L567.89,486.76 L568.31,487.68 L568.73,488.59 L569.15,489.51 L569.58,490.44 L570.00,491.37 L570.42,492.30 L570.84,493.23 L571.26,494.17 L571.69,495.11 L572.11,496.05 L572.53,496.99 L572.95,497.93 L573.38,498.87 L573.80,499.82 L574.22,500.76 L574.64,501.71 L575.07,502.65 L575.49,503.60 L575.91,504.54 L576.33,505.48 L576.75,506.42 L577.17,507.36 L577.60,508.30 L578.02,509.23 L578.44,510.17 L578.86,511.10 L579.28,512.02 L579.70,512.95 L580.11,513.87 L580.53,514.78 L580.95,515.69 L581.37,516.60 L581.78,517.50 L582.20,518.40 L582.64,519.34 L583.08,520.29 L583.52,521.25 L583.96,522.20 L584.40,523.16 L584.84,524.12 L585.28,525.08 L585.72,526.04 L586.17,527.00 L586.61,527.96 L587.05,528.92 L587.49,529.88 L587.93,530.83 L588.37,531.78 L588.81,532.72 L589.25,533.66 L589.69,534.60 L590.12,535.53 L590.56,536.45 L590.99,537.36 L591.42,538.26 L591.86,539.16 L592.28,540.04 L592.71,540.92 L593.14,541.78 L593.56,542.63 L593.98,543.47 L594.40,544.29 L594.82,545.11 L595.23,545.90 L595.64,546.68 L596.05,547.45 L596.62,548.51 L597.19,549.56 L597.75,550.60 L598.31,551.63 L598.86,552.64 L599.41,553.63 L599.96,554.61 L600.51,555.56 L601.05,556.49 L601.59,557.40 L602.13,558.27 L602.66,559.12 L603.20,559.94 L603.73,560.73 L604.26,561.48 L604.79,562.20 L605.33,562.88 L606.08,563.76 L606.84,564.55 L607.58,565.27 L608.33,565.93 L609.07,566.56 L609.81,567.18 L610.55,567.82 L611.30,568.50" fill="none" stroke="#FFC000" stroke-width="6.5" stroke-linecap="round" stroke-linejoin="round"/>
<path d="M643.00,569.00 L644.06,568.95 L645.12,568.89 L646.17,568.84 L647.22,568.78 L648.28,568.72 L649.33,568.67 L650.39,568.61 L651.45,568.56 L652.51,568.51 L653.58,568.45 L654.66,568.40 L655.75,568.35 L656.74,568.31 L657.75,568.26 L658.76,568.22 L659.78,568.18 L660.80,568.13 L661.83,568.09 L662.86,568.05 L663.89,568.01 L664.92,567.97 L665.94,567.93 L666.97,567.89 L667.98,567.85 L669.00,567.81 L670.00,567.78 L671.04,567.73 L672.09,567.69 L673.13,567.65 L674.18,567.61 L675.22,567.57 L676.26,567.53 L677.30,567.49 L678.32,567.45 L679.34,567.41 L680.34,567.37 L681.33,567.33 L682.30,567.29 L683.25,567.25 L684.40,567.20 L685.52,567.15 L686.61,567.10 L687.69,567.05 L688.75,567.00 L689.81,566.95 L690.86,566.90 L691.92,566.85 L693.00,566.80" fill="none" stroke="#FFC000" stroke-width="6.5" stroke-linecap="round" stroke-linejoin="round"/>
<path d="M155.50,448.10 L156.44,448.48 L157.38,448.86 L158.32,449.24 L159.26,449.61 L160.21,449.98 L161.15,450.36 L162.09,450.74 L163.03,451.12 L163.97,451.50 L164.90,451.89 L165.82,452.29 L166.74,452.70 L167.65,453.12 L168.61,453.58 L169.58,454.04 L170.54,454.51 L171.50,454.98 L172.45,455.45 L173.40,455.94 L174.34,456.44 L175.26,456.94 L176.18,457.46 L177.08,457.98 L177.96,458.52 L178.82,459.08 L179.71,459.66 L180.58,460.25 L181.44,460.85 L182.29,461.47 L183.13,462.09 L183.95,462.73 L184.75,463.38 L185.53,464.05 L186.29,464.72 L187.02,465.42 L187.73,466.12 L188.43,466.88 L189.10,467.64 L189.75,468.42 L190.37,469.21 L190.97,470.02 L191.55,470.84 L192.11,471.68 L192.66,472.54 L193.19,473.41 L193.70,474.30 L194.17,475.18 L194.62,476.07 L195.05,476.99 L195.46,477.92 L195.86,478.87 L196.24,479.83 L196.61,480.80 L196.97,481.78 L197.33,482.76 L197.69,483.75 L198.05,484.75 L198.40,485.73 L198.74,486.72 L199.07,487.73 L199.40,488.75 L199.72,489.77 L200.04,490.80 L200.35,491.84 L200.66,492.87 L200.96,493.91 L201.26,494.94 L201.56,495.98 L201.85,497.00 L202.14,498.01 L202.42,499.03 L202.69,500.04 L202.96,501.06 L203.22,502.07 L203.49,503.09 L203.75,504.11 L204.00,505.12 L204.26,506.13 L204.52,507.13 L204.79,508.13 L205.05,509.12 L205.33,510.17 L205.60,511.21 L205.87,512.25 L206.15,513.29 L206.42,514.32 L206.69,515.35 L206.97,516.37 L207.25,517.38 L207.53,518.39 L207.82,519.39 L208.12,520.38 L208.44,521.39 L208.76,522.40 L209.08,523.40 L209.41,524.40 L209.74,525.39 L210.08,526.36 L210.42,527.32 L210.78,528.27 L211.15,529.21 L211.52,530.12 L211.97,531.16 L212.41,532.19 L212.86,533.20 L213.33,534.19 L213.82,535.16 L214.32,536.10 L214.86,537.00 L215.43,537.88 L216.06,538.76 L216.71,539.62 L217.40,540.44 L218.11,541.23 L218.85,541.98 L219.61,542.70 L220.40,543.38 L221.20,544.03 L222.04,544.69 L222.91,545.32 L223.79,545.89 L224.69,546.39 L225.60,546.76 L226.50,547.00 L227.49,547.08 L228.50,547.01 L229.51,546.81 L230.53,546.53 L231.54,546.18 L232.53,545.80 L233.43,545.41 L234.33,544.97 L235.22,544.48 L236.10,543.93 L236.97,543.33 L237.83,542.68 L238.68,541.98 L239.37,541.34 L240.05,540.67 L240.73,539.95 L241.39,539.19 L242.05,538.41 L242.70,537.59 L243.36,536.75 L244.01,535.89 L244.67,535.01 L245.32,534.12 L245.88,533.36 L246.44,532.58 L246.99,531.78 L247.54,530.97 L248.10,530.13 L248.65,529.29 L249.20,528.43 L249.75,527.55 L250.31,526.67 L250.86,525.78 L251.42,524.88 L251.98,523.97 L252.54,523.06 L253.10,522.15 L253.62,521.30 L254.14,520.45 L254.66,519.59 L255.19,518.71 L255.71,517.83 L256.24,516.94 L256.77,516.05 L257.30,515.14 L257.83,514.24 L258.36,513.32 L258.88,512.40 L259.41,511.48 L259.94,510.55 L260.47,509.63 L261.00,508.69 L261.52,507.76 L262.05,506.82 L262.55,505.94 L263.04,505.05 L263.53,504.16 L264.03,503.27 L264.52,502.37 L265.01,501.47 L265.51,500.56 L266.00,499.66 L266.49,498.74 L266.98,497.83 L267.47,496.91 L267.97,495.98 L268.46,495.06 L268.95,494.12 L269.45,493.18 L269.94,492.24 L270.43,491.29 L270.93,490.34 L271.43,489.38 L271.87,488.51 L272.31,487.64 L272.75,486.77 L273.19,485.90 L273.63,485.02 L274.07,484.13 L274.51,483.24 L274.95,482.35 L275.39,481.46 L275.83,480.56 L276.27,479.65 L276.72,478.75 L277.16,477.84 L277.61,476.93 L278.05,476.01 L278.50,475.09 L278.95,474.17 L279.40,473.24 L279.86,472.31 L280.31,471.38 L280.77,470.45 L281.23,469.51 L281.70,468.57 L282.13,467.70 L282.57,466.83 L283.00,465.94 L283.44,465.06 L283.88,464.16 L284.32,463.27 L284.76,462.37 L285.20,461.46 L285.65,460.56 L286.09,459.65 L286.54,458.74 L286.99,457.82 L287.44,456.91 L287.89,455.99 L288.34,455.07 L288.80,454.16 L289.26,453.24 L289.71,452.33 L290.17,451.41 L290.63,450.50 L291.10,449.59 L291.56,448.68 L292.02,447.77 L292.49,446.86 L292.96,445.96 L293.43,445.07 L293.90,444.17 L294.39,443.25 L294.88,442.33 L295.37,441.40 L295.87,440.48 L296.37,439.55 L296.87,438.62 L297.38,437.68 L297.88,436.75 L298.39,435.82 L298.90,434.90 L299.41,433.97 L299.92,433.04 L300.43,432.12 L300.94,431.20 L301.45,430.29 L301.97,429.38 L302.48,428.47 L303.00,427.57 L303.51,426.68 L304.03,425.79 L304.54,424.91 L305.05,424.04 L305.57,423.17 L306.08,422.31 L306.59,421.46 L307.10,420.63 L307.66,419.70 L308.22,418.79 L308.79,417.87 L309.35,416.95 L309.91,416.04 L310.48,415.13 L311.04,414.23 L311.61,413.34 L312.17,412.45 L312.74,411.57 L313.30,410.70 L313.87,409.84 L314.43,409.00 L314.99,408.16 L315.56,407.34 L316.12,406.54 L316.68,405.75 L317.24,404.98 L317.81,404.22 L318.37,403.49 L318.93,402.77 L319.64,401.88 L320.35,401.00 L321.06,400.14 L321.76,399.29 L322.46,398.48 L323.17,397.68 L323.87,396.91 L324.58,396.17 L325.29,395.46 L326.01,394.78 L326.73,394.13 L327.46,393.52 L328.20,392.95 L329.10,392.28 L330.02,391.62 L330.95,390.97 L331.88,390.37 L332.82,389.84 L333.75,389.40 L334.68,389.06 L335.60,388.85 L336.50,388.80 L337.47,388.94 L338.45,389.26 L339.41,389.74 L340.37,390.34 L341.31,391.02 L342.24,391.74 L343.16,392.48 L344.05,393.20 L344.81,393.81 L345.55,394.46 L346.29,395.13 L347.01,395.83 L347.73,396.55 L348.43,397.30 L349.12,398.07 L349.79,398.86 L350.45,399.67 L351.10,400.50 L351.67,401.28 L352.23,402.08 L352.77,402.91 L353.30,403.76 L353.82,404.62 L354.32,405.50 L354.82,406.40 L355.32,407.30 L355.81,408.21 L356.31,409.13 L356.80,410.05 L357.30,410.98 L357.79,411.89 L358.28,412.82 L358.76,413.77 L359.24,414.72 L359.72,415.68 L360.19,416.65 L360.66,417.62 L361.14,418.60 L361.61,419.57 L362.08,420.55 L362.55,421.52 L363.02,422.49 L363.50,423.45 L363.98,424.40 L364.45,425.36 L364.93,426.32 L365.40,427.28 L365.87,428.23 L366.35,429.19 L366.82,430.15 L367.30,431.10 L367.77,432.05 L368.25,433.00 L368.72,433.95 L369.20,434.89 L369.68,435.83 L370.13,436.73 L370.59,437.63 L371.04,438.53 L371.49,439.43 L371.94,440.33 L372.39,441.22 L372.85,442.11 L373.30,443.00 L373.77,443.88 L374.23,444.77 L374.70,445.65 L375.19,446.52 L375.67,447.40 L376.17,448.28 L376.68,449.16 L377.18,450.05 L377.69,450.93 L378.21,451.81 L378.73,452.69 L379.25,453.57 L379.79,454.43 L380.33,455.29 L380.88,456.14 L381.43,456.98 L382.00,457.81 L382.58,458.63 L383.19,459.47 L383.81,460.31 L384.45,461.15 L385.09,461.97 L385.74,462.79 L386.40,463.60 L387.06,464.39 L387.74,465.17 L388.42,465.93 L389.10,466.66 L389.80,467.38 L390.50,468.08 L391.29,468.86 L392.10,469.69 L392.92,470.55 L393.76,471.39 L394.60,472.18 L395.45,472.91 L396.28,473.54 L397.11,474.03 L397.91,474.36 L398.70,474.50 L399.63,474.40 L400.54,474.04 L401.45,473.50 L402.34,472.81 L403.21,472.04 L404.05,471.24 L404.88,470.48 L405.57,469.82 L406.24,469.12 L406.89,468.39 L407.53,467.63 L408.16,466.83 L408.77,466.00 L409.37,465.13 L409.95,464.24 L410.52,463.32 L411.02,462.48 L411.50,461.60 L411.97,460.70 L412.42,459.77 L412.86,458.81 L413.30,457.84 L413.72,456.84 L414.14,455.83 L414.56,454.80 L414.97,453.76 L415.39,452.71 L415.80,451.65 L416.16,450.73 L416.51,449.79 L416.86,448.83 L417.20,447.86 L417.54,446.88 L417.88,445.88 L418.22,444.88 L418.55,443.86 L418.88,442.84 L419.21,441.81 L419.53,440.78 L419.86,439.75 L420.18,438.71 L420.50,437.67 L420.81,436.63 L421.12,435.60 L421.41,434.64 L421.70,433.67 L421.99,432.70 L422.27,431.72 L422.55,430.73 L422.83,429.75 L423.11,428.76 L423.38,427.77 L423.66,426.77 L423.93,425.78 L424.19,424.78 L424.46,423.78 L424.72,422.78 L424.98,421.78 L425.24,420.78 L425.50,419.79 L425.75,418.79 L426.00,417.80 L426.25,416.81 L426.49,415.83 L426.73,414.84 L426.96,413.86 L427.20,412.87 L427.43,411.89 L427.66,410.90 L427.88,409.92 L428.11,408.93 L428.33,407.94 L428.55,406.95 L428.77,405.97 L428.99,404.97 L429.21,403.98 L429.42,402.99 L429.64,402.00 L429.86,401.00 L430.07,400.00 L430.30,398.98 L430.51,397.96 L430.73,396.94 L430.94,395.91 L431.15,394.88 L431.36,393.85 L431.57,392.82 L431.78,391.78 L431.99,390.75 L432.20,389.72 L432.41,388.69 L432.62,387.65 L432.83,386.62 L433.04,385.59 L433.25,384.57 L433.46,383.54 L433.68,382.52 L433.90,381.50 L434.12,380.50 L434.34,379.50 L434.55,378.50 L434.77,377.50 L435.00,376.50 L435.22,375.50 L435.44,374.50 L435.66,373.50 L435.89,372.51 L436.11,371.52 L436.34,370.52 L436.57,369.53 L436.79,368.55 L437.02,367.56 L437.25,366.58 L437.48,365.60 L437.72,364.62 L437.95,363.65 L438.19,362.66 L438.43,361.67 L438.68,360.70 L438.93,359.72 L439.18,358.75 L439.43,357.79 L439.68,356.82 L439.93,355.86 L440.18,354.90 L440.44,353.93 L440.69,352.97 L440.94,352.00 L441.19,351.02 L441.44,350.04 L441.69,349.05 L441.93,348.06 L442.18,347.05 L442.40,346.09 L442.63,345.12 L442.86,344.15 L443.09,343.17 L443.32,342.20 L443.54,341.21 L443.77,340.23 L443.99,339.24 L444.22,338.25 L444.44,337.25 L444.66,336.25 L444.89,335.25 L445.11,334.24 L445.33,333.24 L445.55,332.22 L445.77,331.21 L445.99,330.19 L446.21,329.17 L446.42,328.15 L446.63,327.17 L446.84,326.18 L447.04,325.18 L447.24,324.18 L447.45,323.17 L447.65,322.16 L447.85,321.14 L448.05,320.12 L448.24,319.10 L448.44,318.07 L448.64,317.05 L448.84,316.03 L449.04,315.01 L449.24,313.99 L449.44,312.97 L449.64,311.96 L449.85,310.96 L450.05,309.96 L450.26,308.96 L450.47,307.98 L450.68,307.00 L450.89,305.99 L451.11,304.99 L451.33,303.99 L451.54,303.00 L451.76,302.01 L451.97,301.02 L452.19,300.04 L452.41,299.06 L452.63,298.09 L452.85,297.12 L453.07,296.15 L453.30,295.18 L453.53,294.21 L453.76,293.25 L454.00,292.29 L454.24,291.33 L454.49,290.37 L454.74,289.41 L455.00,288.45 L455.27,287.46 L455.54,286.47 L455.82,285.49 L456.10,284.50 L456.38,283.53 L456.66,282.55 L456.95,281.57 L457.24,280.60 L457.53,279.63 L457.83,278.66 L458.14,277.69 L458.45,276.72 L458.77,275.75 L459.10,274.78 L459.44,273.82 L459.78,272.84 L460.14,271.87 L460.50,270.90 L460.87,269.93 L461.24,268.95 L461.61,267.97 L461.99,266.97 L462.38,265.97 L462.77,264.97 L463.17,263.97 L463.58,262.97 L463.99,261.97 L464.41,260.98 L464.84,260.00 L465.28,259.02 L465.73,258.06 L466.18,257.11 L466.65,256.18 L467.13,255.27 L467.62,254.37 L468.11,253.50 L468.62,252.65 L469.22,251.71 L469.82,250.76 L470.43,249.83 L471.06,248.90 L471.70,247.99 L472.35,247.10 L473.01,246.22 L473.69,245.37 L474.37,244.55 L475.07,243.75 L475.78,242.99 L476.50,242.27 L477.23,241.58 L477.97,240.94 L478.73,240.35 L479.62,239.69 L480.54,239.05 L481.49,238.44 L482.45,237.86 L483.43,237.33 L484.41,236.86 L485.40,236.46 L486.39,236.14 L487.37,235.92 L488.34,235.80 L489.30,235.80 L490.19,235.92 L491.09,236.16 L491.98,236.50 L492.87,236.93 L493.76,237.44 L494.64,238.01 L495.52,238.63 L496.40,239.28 L497.27,239.96 L498.13,240.64 L498.98,241.32 L499.83,241.98 L500.61,242.59 L501.40,243.24 L502.17,243.90 L502.94,244.59 L503.70,245.29 L504.46,246.02 L505.21,246.76 L505.96,247.52 L506.70,248.29 L507.44,249.08 L508.18,249.88 L508.91,250.69 L509.64,251.52 L510.38,252.35 L511.01,253.08 L511.63,253.83 L512.26,254.59 L512.88,255.36 L513.49,256.15 L514.11,256.94 L514.72,257.75 L515.32,258.56 L515.93,259.39 L516.54,260.22 L517.14,261.06 L517.75,261.91 L518.35,262.76 L518.95,263.62 L519.56,264.48 L520.16,265.35 L520.77,266.22 L521.38,267.10 L521.94,267.92 L522.51,268.76 L523.08,269.59 L523.65,270.44 L524.21,271.29 L524.78,272.14 L525.34,273.01 L525.91,273.87 L526.47,274.75 L527.04,275.63 L527.60,276.51 L528.17,277.40 L528.73,278.29 L529.30,279.19 L529.86,280.08 L530.43,280.99 L531.00,281.89 L531.57,282.80 L532.13,283.72 L532.70,284.63 L533.28,285.55 L533.79,286.38 L534.31,287.22 L534.82,288.06 L535.34,288.90 L535.86,289.75 L536.37,290.60 L536.89,291.46 L537.41,292.32 L537.93,293.18 L538.45,294.05 L538.97,294.92 L539.49,295.79 L540.01,296.66 L540.53,297.54 L541.05,298.41 L541.57,299.29 L542.10,300.17 L542.62,301.05 L543.14,301.93 L543.66,302.81 L544.18,303.69 L544.69,304.57 L545.21,305.45 L545.73,306.32 L546.25,307.20 L546.78,308.09 L547.30,308.98 L547.83,309.88 L548.36,310.78 L548.89,311.68 L549.42,312.58 L549.95,313.48 L550.48,314.39 L551.01,315.29 L551.54,316.20 L552.07,317.11 L552.60,318.01 L553.13,318.92 L553.66,319.83 L554.19,320.73 L554.71,321.63 L555.24,322.53 L555.76,323.43 L556.28,324.33 L556.80,325.23 L557.31,326.12 L557.83,327.01 L558.34,327.89 L558.84,328.77 L559.35,329.65 L559.87,330.55 L560.38,331.44 L560.89,332.33 L561.40,333.22 L561.91,334.11 L562.41,334.99 L562.92,335.88 L563.42,336.76 L563.92,337.64 L564.42,338.52 L564.92,339.39 L565.41,340.26 L565.91,341.14 L566.40,342.01 L566.89,342.88 L567.38,343.74 L567.87,344.61 L568.36,345.47 L568.84,346.34 L569.33,347.20 L569.81,348.06 L570.29,348.92 L570.77,349.78 L571.28,350.67 L571.78,351.56 L572.27,352.45 L572.77,353.34 L573.26,354.23 L573.75,355.11 L574.23,355.99 L574.72,356.87 L575.21,357.75 L575.69,358.63 L576.17,359.50 L576.66,360.38 L577.14,361.25 L577.62,362.13 L578.11,363.00 L578.59,363.87 L579.07,364.74 L579.56,365.61 L580.05,366.48 L580.53,367.35 L581.02,368.23 L581.54,369.13 L582.04,370.04 L582.55,370.94 L583.06,371.85 L583.57,372.75 L584.08,373.65 L584.59,374.56 L585.09,375.46 L585.60,376.36 L586.11,377.26 L586.62,378.16 L587.14,379.06 L587.65,379.96 L588.16,380.85 L588.68,381.74 L589.20,382.63 L589.72,383.52 L590.25,384.41 L590.77,385.29 L591.30,386.18 L591.82,387.04 L592.35,387.91 L592.87,388.78 L593.40,389.64 L593.93,390.51 L594.45,391.37 L594.98,392.23 L595.52,393.08 L596.05,393.94 L596.58,394.80 L597.12,395.65 L597.66,396.50 L598.20,397.35 L598.75,398.19 L599.30,399.04 L599.85,399.88 L600.41,400.72 L600.97,401.56 L601.53,402.39 L602.10,403.23 L602.67,404.05 L603.25,404.88 L603.82,405.71 L604.40,406.54 L604.99,407.36 L605.57,408.18 L606.16,409.00 L606.76,409.82 L607.35,410.64 L607.95,411.45 L608.55,412.26 L609.16,413.07 L609.77,413.87 L610.38,414.67 L610.99,415.47 L611.61,416.27 L612.23,417.06 L612.85,417.84 L613.47,418.62 L614.10,419.40 L614.75,420.20 L615.42,421.00 L616.08,421.80 L616.75,422.60 L617.43,423.39 L618.11,424.19 L618.79,424.97 L619.47,425.76 L620.16,426.54 L620.85,427.31 L621.54,428.08 L622.23,428.85 L622.92,429.60 L623.62,430.36 L624.31,431.10 L625.00,431.84 L625.68,432.57 L626.37,433.29 L627.05,434.00 L627.79,434.77 L628.54,435.53 L629.29,436.30 L630.04,437.05 L630.79,437.80 L631.54,438.54 L632.29,439.27 L633.04,440.00 L633.79,440.71 L634.53,441.41 L635.27,442.11 L636.01,442.79 L636.74,443.46 L637.47,444.11 L638.19,444.75 L638.90,445.38 L639.77,446.13 L640.63,446.86 L641.48,447.58 L642.33,448.28 L643.17,448.96 L644.01,449.62 L644.84,450.27 L645.67,450.89 L646.49,451.50 L647.31,452.08 L648.12,452.65 L649.08,453.29 L650.02,453.91 L650.96,454.49 L651.89,455.06 L652.82,455.59 L653.75,456.10 L654.67,456.59 L655.60,457.05 L656.57,457.51 L657.54,457.95 L658.51,458.36 L659.47,458.74 L660.44,459.09 L661.42,459.41 L662.40,459.70 L663.52,459.99 L664.65,460.23 L665.79,460.44 L666.92,460.60 L668.06,460.74 L669.20,460.85 L670.32,460.92 L671.44,460.96 L672.55,460.96 L673.68,460.93 L674.82,460.90 L675.98,460.85 L677.06,460.79 L678.15,460.71 L679.26,460.62 L680.38,460.52 L681.52,460.41 L682.68,460.30 L683.88,460.20 L684.87,460.12 L685.90,460.04 L686.95,459.96 L688.01,459.88 L689.09,459.80 L690.17,459.72 L691.26,459.64 L692.35,459.56 L693.43,459.48 L694.50,459.40" fill="none" stroke="#0070C0" stroke-width="6" stroke-linecap="round" stroke-linejoin="round"/>
<line x1="548.5" y1="68" x2="583" y2="68" stroke="#FF0000" stroke-width="3.6" stroke-linecap="round"/>
<line x1="549.3" y1="128.6" x2="582" y2="128.6" stroke="#FFC000" stroke-width="6.5" stroke-linecap="round"/>
<line x1="549" y1="189.5" x2="582.2" y2="189.5" stroke="#0070C0" stroke-width="6" stroke-linecap="round"/>
<text transform="matrix(0.22850 0 0 0.33404 588.45 78.86)" fill="#000" stroke="#000" stroke-width="0.35" vector-effect="non-scaling-stroke">K0=0.5</text>
<text transform="matrix(0.25244 0 0 0.34823 585.96 134.55)" fill="#000" stroke="#000" stroke-width="0.35" vector-effect="non-scaling-stroke">K0=1.0</text>
<text transform="matrix(0.23013 0 0 0.33546 588.13 200.46)" fill="#000" stroke="#000" stroke-width="0.35" vector-effect="non-scaling-stroke">K0=1.5</text>
<rect x="57.6" y="21.4" width="268.8" height="73.1" fill="#fff" stroke="#000" stroke-width="3"/>
<text transform="matrix(0.31156 0 0 0.34752 82.24 74.73)" fill="#000" stroke="#000" stroke-width="0.2" vector-effect="non-scaling-stroke">Critical</text>
<text transform="matrix(0.29547 0 0 0.34752 182.02 74.73)" fill="#000" stroke="#000" stroke-width="0.2" vector-effect="non-scaling-stroke">Sections</text>
<line x1="167.6" y1="96.5" x2="318.8" y2="307.0" stroke="#383838" stroke-width="1.8"/><polygon points="327.5,319.2 309.5,311.2 325.7,299.6" fill="#000"/>
<line x1="168.0" y1="96.5" x2="321.2" y2="224.0" stroke="#383838" stroke-width="1.8"/><polygon points="332.7,233.6 313.2,230.4 326.0,215.0" fill="#000"/>
<line x1="172.6" y1="96.3" x2="454.9" y2="309.7" stroke="#000" stroke-width="2.2"/><polygon points="466.9,318.7 447.3,316.4 459.4,300.5" fill="#000"/>
<line x1="171.0" y1="97.0" x2="475.4" y2="232.6" stroke="#383838" stroke-width="1.8"/><polygon points="489.1,238.7 469.5,240.9 477.6,222.6" fill="#000"/>
<line x1="4" y1="496" x2="4" y2="677" stroke="#E6E6E6" stroke-width="1"/>
<line x1="753.7" y1="507" x2="753.7" y2="676" stroke="#E6E6E6" stroke-width="1"/>
<g stroke="#DADADA" stroke-width="2.8"><line x1="808.3" y1="489.5" x2="1479.3" y2="489.5"/><line x1="808.3" y1="421.3" x2="1479.3" y2="421.3"/><line x1="808.3" y1="353.2" x2="1479.3" y2="353.2"/><line x1="808.3" y1="285.0" x2="1479.3" y2="285.0"/><line x1="808.3" y1="216.9" x2="1479.3" y2="216.9"/><line x1="808.3" y1="148.8" x2="1479.3" y2="148.8"/><line x1="808.3" y1="80.6" x2="1479.3" y2="80.6"/></g>
<g stroke="#DADADA" stroke-width="2.4"><line x1="882.9" y1="12.5" x2="882.9" y2="557.6"/><line x1="957.5" y1="12.5" x2="957.5" y2="557.6"/><line x1="1032.1" y1="12.5" x2="1032.1" y2="557.6"/><line x1="1106.6" y1="12.5" x2="1106.6" y2="557.6"/><line x1="1255.8" y1="12.5" x2="1255.8" y2="557.6"/><line x1="1330.3" y1="12.5" x2="1330.3" y2="557.6"/><line x1="1404.9" y1="12.5" x2="1404.9" y2="557.6"/></g>
<rect x="808.3" y="12.5" width="671.0" height="545.1" fill="none" stroke="#666" stroke-width="2"/>
<line x1="1181.2" y1="12.5" x2="1181.2" y2="557.6" stroke="#6A6A6A" stroke-width="2.2"/>
<rect x="1114.0" y="482.5" width="51.2" height="14.0" fill="#fff"/>
<rect x="1114.0" y="414.3" width="51.2" height="14.0" fill="#fff"/>
<rect x="1114.0" y="346.2" width="51.2" height="14.0" fill="#fff"/>
<rect x="1114.0" y="278.0" width="51.2" height="14.0" fill="#fff"/>
<rect x="1115.0" y="211.0" width="50.0" height="13.0" fill="#fff"/>
<rect x="1110.3" y="141.0" width="62.2" height="15.0" fill="#fff"/>
<rect x="1110.3" y="76.0" width="61.1" height="16.0" fill="#fff"/>
<rect x="1109.5" y="6.0" width="67.5" height="16.0" fill="#fff"/>
<rect x="797.05" y="586.80" width="4.0" height="2.2" fill="#383838"/><text transform="matrix(0.15728 0 0 0.21277 802.52 595.29)" fill="#383838" stroke="#383838" stroke-width="0.6" vector-effect="non-scaling-stroke">50</text>
<rect x="871.62" y="586.80" width="4.0" height="2.2" fill="#383838"/><text transform="matrix(0.15429 0 0 0.21277 877.41 595.29)" fill="#383838" stroke="#383838" stroke-width="0.6" vector-effect="non-scaling-stroke">40</text>
<rect x="946.19" y="586.80" width="4.0" height="2.2" fill="#383838"/><text transform="matrix(0.15728 0 0 0.21277 951.66 595.29)" fill="#383838" stroke="#383838" stroke-width="0.6" vector-effect="non-scaling-stroke">30</text>
<rect x="1020.76" y="586.80" width="4.0" height="2.2" fill="#383838"/><text transform="matrix(0.15882 0 0 0.21277 1026.07 595.29)" fill="#383838" stroke="#383838" stroke-width="0.6" vector-effect="non-scaling-stroke">20</text>
<rect x="1095.33" y="586.80" width="4.0" height="2.2" fill="#383838"/><text transform="matrix(0.16364 0 0 0.21277 1100.12 595.29)" fill="#383838" stroke="#383838" stroke-width="0.6" vector-effect="non-scaling-stroke">10</text>
<text transform="matrix(0.16250 0 0 0.21277 1176.65 595.29)" fill="#383838" stroke="#383838" stroke-width="0.6" vector-effect="non-scaling-stroke">0</text>
<text transform="matrix(0.16364 0 0 0.21277 1246.36 595.29)" fill="#383838" stroke="#383838" stroke-width="0.6" vector-effect="non-scaling-stroke">10</text>
<text transform="matrix(0.15882 0 0 0.21277 1321.45 595.29)" fill="#383838" stroke="#383838" stroke-width="0.6" vector-effect="non-scaling-stroke">20</text>
<text transform="matrix(0.15728 0 0 0.21277 1396.18 595.29)" fill="#383838" stroke="#383838" stroke-width="0.6" vector-effect="non-scaling-stroke">30</text>
<text transform="matrix(0.15429 0 0 0.21277 1471.07 595.29)" fill="#383838" stroke="#383838" stroke-width="0.6" vector-effect="non-scaling-stroke">40</text>
<text transform="matrix(0.22920 0 0 0.26667 1035.11 656.97)" fill="#000" stroke="#000" stroke-width="0.2" vector-effect="non-scaling-stroke">X-position</text>
<text transform="matrix(0.22574 0 0 0.26667 1141.80 656.97)" fill="#000" stroke="#000" stroke-width="0.2" vector-effect="non-scaling-stroke">on</text>
<text transform="matrix(0.22406 0 0 0.26667 1173.35 656.97)" fill="#000" stroke="#000" stroke-width="0.2" vector-effect="non-scaling-stroke">the</text>
<text transform="matrix(0.23209 0 0 0.26667 1210.17 656.97)" fill="#000" stroke="#000" stroke-width="0.2" vector-effect="non-scaling-stroke">fault</text>
<text transform="matrix(0.22971 0 0 0.26667 1256.82 656.97)" fill="#000" stroke="#000" stroke-width="0.2" vector-effect="non-scaling-stroke">(m)</text>
<text transform="matrix(0 -0.33070 0.23688 0 788.88 471.65)" fill="#000">Normal stress Pa</text>
<path d="M905.90,117.60 L906.92,117.62 L907.95,117.64 L908.98,117.65 L910.01,117.67 L911.04,117.69 L912.07,117.71 L913.10,117.72 L914.12,117.74 L915.15,117.76 L916.17,117.78 L917.19,117.79 L918.21,117.81 L919.22,117.83 L920.23,117.85 L921.27,117.87 L922.32,117.89 L923.36,117.92 L924.41,117.94 L925.46,117.97 L926.50,117.99 L927.54,118.02 L928.57,118.04 L929.58,118.06 L930.59,118.08 L931.58,118.10 L932.55,118.11 L933.50,118.12 L934.66,118.14 L935.81,118.15 L936.93,118.17 L938.05,118.18 L939.14,118.18 L940.20,118.18 L941.25,118.17 L942.26,118.14 L943.25,118.10 L944.42,118.03 L945.53,117.95 L946.61,117.85 L947.67,117.73 L948.71,117.60 L949.75,117.45 L950.92,117.25 L952.06,117.02 L953.19,116.77 L954.33,116.51 L955.50,116.25 L956.56,116.00 L957.62,115.73 L958.70,115.45 L959.78,115.18 L960.89,114.96 L962.00,114.80 L963.02,114.69 L964.06,114.58 L965.11,114.51 L966.17,114.47 L967.23,114.50 L968.27,114.60 L969.30,114.80 L970.25,115.09 L971.19,115.46 L972.12,115.91 L973.05,116.42 L973.97,116.97 L974.88,117.55 L975.78,118.14 L976.67,118.72 L977.57,119.33 L978.45,119.96 L979.31,120.62 L980.16,121.29 L981.01,121.99 L981.88,122.71 L982.76,123.46 L983.67,124.22 L984.42,124.85 L985.17,125.50 L985.92,126.16 L986.68,126.84 L987.45,127.53 L988.23,128.24 L989.02,128.96 L989.83,129.68 L990.64,130.42 L991.47,131.17 L992.31,131.92 L993.18,132.68 L993.88,133.29 L994.59,133.91 L995.32,134.54 L996.06,135.18 L996.82,135.83 L997.58,136.48 L998.35,137.14 L999.13,137.81 L999.91,138.48 L1000.70,139.15 L1001.49,139.83 L1002.28,140.50 L1003.07,141.18 L1003.85,141.85 L1004.64,142.53 L1005.41,143.20 L1006.19,143.86 L1006.95,144.52 L1007.75,145.22 L1008.55,145.91 L1009.36,146.61 L1010.16,147.30 L1010.97,147.99 L1011.78,148.69 L1012.59,149.39 L1013.39,150.08 L1014.19,150.78 L1014.99,151.47 L1015.78,152.16 L1016.57,152.86 L1017.35,153.55 L1018.13,154.24 L1018.89,154.93 L1019.65,155.61 L1020.40,156.30 L1021.17,157.02 L1021.94,157.73 L1022.70,158.44 L1023.46,159.15 L1024.20,159.85 L1024.94,160.56 L1025.68,161.26 L1026.41,161.97 L1027.13,162.67 L1027.85,163.38 L1028.56,164.09 L1029.27,164.80 L1029.98,165.51 L1030.68,166.23 L1031.38,166.95 L1032.09,167.70 L1032.81,168.46 L1033.51,169.21 L1034.21,169.97 L1034.90,170.73 L1035.59,171.50 L1036.28,172.26 L1036.96,173.03 L1037.63,173.79 L1038.31,174.56 L1038.98,175.33 L1039.64,176.09 L1040.31,176.86 L1040.97,177.62 L1041.67,178.43 L1042.35,179.23 L1043.04,180.03 L1043.71,180.83 L1044.38,181.62 L1045.05,182.42 L1045.72,183.22 L1046.38,184.03 L1047.05,184.83 L1047.72,185.64 L1048.39,186.46 L1049.07,187.28 L1049.75,188.10 L1050.41,188.90 L1051.08,189.70 L1051.75,190.50 L1052.41,191.30 L1053.08,192.11 L1053.76,192.92 L1054.43,193.73 L1055.10,194.55 L1055.77,195.37 L1056.45,196.20 L1057.12,197.04 L1057.80,197.89 L1058.47,198.75 L1059.15,199.62 L1059.76,200.42 L1060.37,201.22 L1060.99,202.03 L1061.61,202.84 L1062.23,203.67 L1062.85,204.50 L1063.47,205.34 L1064.09,206.18 L1064.71,207.03 L1065.33,207.88 L1065.95,208.73 L1066.56,209.59 L1067.16,210.46 L1067.76,211.32 L1068.36,212.19 L1068.95,213.06 L1069.53,213.93 L1070.10,214.80 L1070.68,215.69 L1071.25,216.58 L1071.81,217.47 L1072.38,218.37 L1072.94,219.27 L1073.49,220.17 L1074.04,221.08 L1074.58,221.99 L1075.12,222.90 L1075.66,223.81 L1076.19,224.73 L1076.71,225.64 L1077.23,226.56 L1077.74,227.47 L1078.25,228.39 L1078.75,229.30 L1079.23,230.19 L1079.70,231.08 L1080.16,231.97 L1080.62,232.85 L1081.07,233.74 L1081.52,234.63 L1081.96,235.52 L1082.39,236.41 L1082.82,237.31 L1083.25,238.20 L1083.68,239.10 L1084.10,240.00 L1084.53,240.91 L1084.95,241.82 L1085.38,242.73 L1085.80,243.65 L1086.23,244.57 L1086.64,245.49 L1087.06,246.40 L1087.47,247.32 L1087.88,248.24 L1088.29,249.16 L1088.70,250.09 L1089.11,251.02 L1089.51,251.95 L1089.92,252.89 L1090.32,253.83 L1090.72,254.77 L1091.12,255.71 L1091.53,256.66 L1091.93,257.61 L1092.33,258.57 L1092.73,259.53 L1093.13,260.49 L1093.53,261.45 L1093.90,262.36 L1094.28,263.28 L1094.66,264.20 L1095.03,265.12 L1095.41,266.05 L1095.79,266.98 L1096.16,267.91 L1096.54,268.84 L1096.91,269.78 L1097.29,270.72 L1097.66,271.66 L1098.03,272.61 L1098.40,273.55 L1098.77,274.50 L1099.14,275.45 L1099.51,276.40 L1099.87,277.35 L1100.23,278.30 L1100.59,279.25 L1100.95,280.20 L1101.31,281.17 L1101.67,282.14 L1102.03,283.11 L1102.38,284.08 L1102.74,285.06 L1103.09,286.03 L1103.44,287.01 L1103.79,287.99 L1104.14,288.97 L1104.48,289.96 L1104.83,290.94 L1105.17,291.92 L1105.52,292.91 L1105.86,293.89 L1106.20,294.88 L1106.54,295.86 L1106.88,296.85 L1107.22,297.83 L1107.56,298.82 L1107.90,299.80 L1108.24,300.79 L1108.58,301.77 L1108.91,302.76 L1109.25,303.75 L1109.58,304.75 L1109.91,305.74 L1110.24,306.73 L1110.57,307.72 L1110.90,308.72 L1111.23,309.71 L1111.56,310.70 L1111.89,311.69 L1112.22,312.69 L1112.54,313.68 L1112.87,314.66 L1113.20,315.65 L1113.52,316.64 L1113.85,317.62 L1114.17,318.60 L1114.50,319.58 L1114.83,320.58 L1115.17,321.58 L1115.50,322.58 L1115.84,323.58 L1116.17,324.58 L1116.51,325.58 L1116.84,326.58 L1117.18,327.57 L1117.51,328.57 L1117.84,329.56 L1118.18,330.55 L1118.51,331.54 L1118.83,332.52 L1119.16,333.50 L1119.49,334.48 L1119.81,335.46 L1120.14,336.42 L1120.46,337.39 L1120.78,338.35 L1121.11,339.35 L1121.44,340.35 L1121.77,341.35 L1122.10,342.34 L1122.43,343.33 L1122.76,344.32 L1123.08,345.30 L1123.41,346.28 L1123.73,347.26 L1124.05,348.23 L1124.37,349.20 L1124.69,350.16 L1125.00,351.12 L1125.31,352.08 L1125.62,353.03 L1125.92,353.98 L1126.22,354.93 L1126.54,355.91 L1126.85,356.89 L1127.15,357.86 L1127.45,358.82 L1127.75,359.78 L1128.05,360.74 L1128.34,361.69 L1128.64,362.64 L1128.93,363.59 L1129.22,364.53 L1129.51,365.48 L1129.80,366.43 L1130.09,367.38 L1130.38,368.34 L1130.67,369.30 L1130.97,370.27 L1131.26,371.24 L1131.56,372.20 L1131.85,373.17 L1132.13,374.13 L1132.42,375.10 L1132.71,376.06 L1133.00,377.03 L1133.30,378.00 L1133.59,378.98 L1133.89,379.96 L1134.19,380.95 L1134.50,381.94 L1134.81,382.94 L1135.12,383.95 L1135.42,384.87 L1135.71,385.81 L1136.01,386.75 L1136.31,387.70 L1136.61,388.66 L1136.92,389.62 L1137.23,390.59 L1137.54,391.56 L1137.86,392.53 L1138.17,393.50 L1138.49,394.47 L1138.81,395.44 L1139.13,396.41 L1139.46,397.37 L1139.79,398.33 L1140.11,399.28 L1140.44,400.22 L1140.78,401.15 L1141.14,402.15 L1141.50,403.16 L1141.86,404.17 L1142.23,405.19 L1142.60,406.20 L1142.97,407.21 L1143.34,408.21 L1143.72,409.21 L1144.10,410.19 L1144.48,411.17 L1144.87,412.13 L1145.25,413.08 L1145.64,414.02 L1146.03,414.93 L1146.43,415.83 L1146.83,416.70 L1147.31,417.73 L1147.81,418.72 L1148.31,419.69 L1148.82,420.63 L1149.33,421.55 L1149.84,422.46 L1150.35,423.36 L1150.87,424.26 L1151.38,425.16 L1151.89,426.07 L1152.40,427.00 L1152.40,427.00 L1152.95,426.14 L1153.50,425.28 L1154.05,424.43 L1154.60,423.59 L1155.15,422.74 L1155.70,421.90 L1156.26,421.04 L1156.80,420.18 L1157.35,419.30 L1157.90,418.40 L1158.44,417.49 L1158.97,416.55 L1159.46,415.68 L1159.94,414.79 L1160.42,413.88 L1160.90,412.96 L1161.38,412.02 L1161.85,411.08 L1162.33,410.13 L1162.80,409.16 L1163.27,408.19 L1163.74,407.22 L1164.21,406.24 L1164.68,405.26 L1165.15,404.28 L1165.63,403.30 L1166.10,402.33 L1166.54,401.42 L1166.98,400.51 L1167.41,399.60 L1167.85,398.67 L1168.29,397.75 L1168.72,396.82 L1169.16,395.89 L1169.60,394.96 L1170.04,394.03 L1170.47,393.09 L1170.91,392.15 L1171.34,391.22 L1171.78,390.28 L1172.22,389.34 L1172.65,388.41 L1173.09,387.48 L1173.52,386.55 L1173.96,385.62 L1174.40,384.70 L1174.83,383.77 L1175.27,382.85 L1175.70,381.93 L1176.14,381.00 L1176.57,380.08 L1177.01,379.15 L1177.44,378.23 L1177.88,377.30 L1178.31,376.38 L1178.74,375.45 L1179.18,374.53 L1179.61,373.60 L1180.04,372.68 L1180.47,371.75 L1180.90,370.82 L1181.33,369.90 L1181.76,368.97 L1182.19,368.03 L1182.61,367.09 L1183.04,366.16 L1183.47,365.22 L1183.90,364.28 L1184.32,363.34 L1184.75,362.41 L1185.17,361.47 L1185.59,360.54 L1186.02,359.61 L1186.44,358.69 L1186.85,357.77 L1187.27,356.86 L1187.69,355.95 L1188.10,355.05 L1188.54,354.10 L1188.98,353.15 L1189.41,352.20 L1189.85,351.26 L1190.29,350.31 L1190.72,349.38 L1191.15,348.44 L1191.58,347.52 L1192.01,346.60 L1192.43,345.68 L1192.85,344.78 L1193.27,343.88 L1193.69,342.99 L1194.10,342.12 L1194.50,341.25 L1194.98,340.23 L1195.44,339.23 L1195.90,338.25 L1196.36,337.29 L1196.81,336.33 L1197.25,335.38 L1197.70,334.43 L1198.15,333.48 L1198.60,332.53 L1199.06,331.56 L1199.53,330.57 L1199.97,329.63 L1200.42,328.68 L1200.87,327.73 L1201.32,326.79 L1201.77,325.84 L1202.22,324.88 L1202.68,323.92 L1203.14,322.94 L1203.62,321.95 L1204.10,320.95 L1204.59,319.94 L1205.10,318.90 L1205.53,318.03 L1205.96,317.14 L1206.40,316.24 L1206.85,315.33 L1207.30,314.41 L1207.76,313.49 L1208.23,312.55 L1208.69,311.61 L1209.17,310.66 L1209.65,309.70 L1210.13,308.74 L1210.62,307.78 L1211.11,306.81 L1211.61,305.84 L1212.11,304.87 L1212.62,303.90 L1213.12,302.92 L1213.58,302.06 L1214.03,301.20 L1214.49,300.33 L1214.95,299.46 L1215.42,298.58 L1215.88,297.70 L1216.35,296.82 L1216.83,295.94 L1217.30,295.05 L1217.79,294.16 L1218.27,293.27 L1218.76,292.37 L1219.26,291.48 L1219.76,290.58 L1220.26,289.67 L1220.77,288.77 L1221.28,287.86 L1221.80,286.95 L1222.33,286.03 L1222.86,285.12 L1223.40,284.20 L1223.90,283.35 L1224.41,282.49 L1224.92,281.64 L1225.44,280.78 L1225.95,279.91 L1226.48,279.05 L1227.01,278.18 L1227.54,277.31 L1228.07,276.44 L1228.61,275.57 L1229.16,274.69 L1229.70,273.81 L1230.26,272.93 L1230.81,272.05 L1231.38,271.17 L1231.94,270.28 L1232.51,269.39 L1233.09,268.50 L1233.67,267.61 L1234.25,266.72 L1234.84,265.82 L1235.44,264.93 L1236.04,264.03 L1236.64,263.13 L1237.25,262.23 L1237.80,261.42 L1238.35,260.61 L1238.92,259.79 L1239.48,258.97 L1240.06,258.14 L1240.63,257.32 L1241.22,256.48 L1241.81,255.65 L1242.40,254.82 L1243.00,253.98 L1243.60,253.14 L1244.20,252.30 L1244.81,251.45 L1245.42,250.61 L1246.03,249.77 L1246.64,248.93 L1247.26,248.09 L1247.88,247.24 L1248.50,246.40 L1249.12,245.57 L1249.74,244.73 L1250.36,243.90 L1250.98,243.06 L1251.60,242.24 L1252.22,241.41 L1252.84,240.59 L1253.45,239.77 L1254.07,238.96 L1254.68,238.15 L1255.29,237.35 L1255.90,236.55 L1256.54,235.71 L1257.19,234.87 L1257.84,234.03 L1258.49,233.19 L1259.15,232.34 L1259.81,231.50 L1260.46,230.67 L1261.12,229.83 L1261.78,228.99 L1262.45,228.16 L1263.11,227.33 L1263.77,226.50 L1264.43,225.68 L1265.09,224.86 L1265.75,224.04 L1266.40,223.23 L1267.06,222.42 L1267.71,221.62 L1268.36,220.83 L1269.00,220.04 L1269.65,219.25 L1270.28,218.48 L1270.92,217.71 L1271.54,216.94 L1272.17,216.19 L1272.78,215.44 L1273.40,214.70 L1274.00,213.97 L1274.70,213.13 L1275.40,212.30 L1276.09,211.48 L1276.77,210.67 L1277.45,209.87 L1278.12,209.08 L1278.79,208.30 L1279.45,207.52 L1280.11,206.75 L1280.77,205.99 L1281.42,205.24 L1282.07,204.49 L1282.72,203.74 L1283.37,203.00 L1284.01,202.26 L1284.66,201.52 L1285.30,200.78 L1285.94,200.05 L1286.58,199.31 L1287.22,198.58 L1287.93,197.77 L1288.62,196.97 L1289.32,196.18 L1290.01,195.39 L1290.70,194.60 L1291.38,193.82 L1292.07,193.05 L1292.75,192.27 L1293.43,191.50 L1294.11,190.74 L1294.78,189.97 L1295.46,189.21 L1296.14,188.45 L1296.82,187.69 L1297.49,186.93 L1298.17,186.18 L1298.85,185.43 L1299.55,184.65 L1300.24,183.88 L1300.93,183.11 L1301.62,182.34 L1302.31,181.57 L1302.99,180.80 L1303.68,180.04 L1304.37,179.28 L1305.06,178.52 L1305.75,177.77 L1306.44,177.02 L1307.13,176.27 L1307.83,175.53 L1308.53,174.80 L1309.24,174.07 L1309.95,173.35 L1310.70,172.60 L1311.44,171.87 L1312.19,171.14 L1312.94,170.42 L1313.69,169.70 L1314.45,168.99 L1315.21,168.28 L1315.97,167.58 L1316.74,166.88 L1317.50,166.18 L1318.28,165.48 L1319.06,164.77 L1319.84,164.07 L1320.63,163.36 L1321.43,162.65 L1322.17,161.99 L1322.91,161.33 L1323.67,160.66 L1324.43,160.00 L1325.19,159.33 L1325.96,158.67 L1326.74,158.00 L1327.51,157.34 L1328.29,156.67 L1329.07,156.01 L1329.85,155.35 L1330.63,154.69 L1331.41,154.03 L1332.18,153.37 L1332.96,152.72 L1333.73,152.07 L1334.50,151.42 L1335.29,150.76 L1336.09,150.09 L1336.88,149.42 L1337.67,148.75 L1338.45,148.08 L1339.24,147.41 L1340.03,146.75 L1340.82,146.09 L1341.61,145.43 L1342.40,144.78 L1343.19,144.13 L1343.98,143.49 L1344.77,142.86 L1345.57,142.23 L1346.37,141.61 L1347.17,141.00 L1348.00,140.38 L1348.84,139.76 L1349.67,139.14 L1350.50,138.52 L1351.34,137.92 L1352.18,137.31 L1353.02,136.72 L1353.86,136.13 L1354.70,135.55 L1355.54,134.98 L1356.39,134.43 L1357.24,133.88 L1358.09,133.35 L1358.94,132.83 L1359.80,132.32 L1360.74,131.79 L1361.69,131.26 L1362.64,130.74 L1363.59,130.23 L1364.55,129.73 L1365.51,129.25 L1366.47,128.78 L1367.43,128.33 L1368.39,127.89 L1369.34,127.48 L1370.29,127.09 L1371.24,126.72 L1372.18,126.38 L1373.16,126.02 L1374.15,125.67 L1375.14,125.32 L1376.12,124.99 L1377.10,124.69 L1378.08,124.42 L1379.05,124.18 L1380.02,124.00 L1380.99,123.87 L1381.95,123.80 L1382.90,123.80 L1383.91,123.90 L1384.91,124.11 L1385.89,124.39 L1386.87,124.75 L1387.85,125.14 L1388.83,125.56 L1389.81,125.99 L1390.81,126.40 L1391.82,126.78 L1392.85,127.10 L1393.86,127.38 L1394.87,127.65 L1395.89,127.92 L1396.92,128.18 L1397.95,128.43 L1399.00,128.68 L1400.06,128.91 L1401.14,129.13 L1402.24,129.33 L1403.36,129.53 L1404.50,129.70 L1405.44,129.83 L1406.39,129.94 L1407.36,130.04 L1408.34,130.13 L1409.33,130.21 L1410.34,130.28 L1411.35,130.35 L1412.38,130.41 L1413.41,130.46 L1414.46,130.51 L1415.51,130.55 L1416.57,130.60 L1417.64,130.64 L1418.71,130.68 L1419.79,130.73 L1420.88,130.77 L1421.86,130.82 L1422.86,130.86 L1423.87,130.89 L1424.89,130.93 L1425.92,130.96 L1426.96,130.99 L1428.01,131.01 L1429.06,131.04 L1430.12,131.06 L1431.18,131.08 L1432.24,131.10 L1433.31,131.13 L1434.37,131.15 L1435.44,131.17 L1436.51,131.19 L1437.57,131.21 L1438.64,131.23 L1439.70,131.25 L1440.75,131.27 L1441.80,131.30" fill="none" stroke="#FF0000" stroke-width="6.0" stroke-linecap="round" stroke-linejoin="round"/>
<path d="M905.90,106.10 L906.96,106.15 L908.02,106.20 L909.09,106.25 L910.16,106.30 L911.23,106.34 L912.31,106.39 L913.38,106.44 L914.45,106.48 L915.52,106.53 L916.58,106.58 L917.63,106.64 L918.68,106.69 L919.71,106.75 L920.74,106.81 L921.75,106.88 L922.75,106.95 L923.83,107.03 L924.91,107.11 L925.97,107.18 L927.03,107.26 L928.07,107.34 L929.11,107.43 L930.14,107.52 L931.16,107.61 L932.16,107.72 L933.16,107.83 L934.14,107.96 L935.11,108.10 L936.08,108.25 L937.17,108.44 L938.26,108.62 L939.33,108.82 L940.39,109.03 L941.43,109.25 L942.45,109.49 L943.46,109.75 L944.46,110.04 L945.44,110.35 L946.40,110.70 L947.39,111.10 L948.35,111.52 L949.30,111.97 L950.23,112.45 L951.15,112.95 L952.05,113.47 L952.93,114.02 L953.81,114.59 L954.67,115.17 L955.54,115.80 L956.38,116.45 L957.20,117.13 L958.02,117.84 L958.82,118.56 L959.61,119.30 L960.41,120.04 L961.20,120.78 L962.00,121.53 L962.74,122.22 L963.48,122.92 L964.21,123.63 L964.94,124.35 L965.67,125.08 L966.40,125.80 L967.13,126.53 L967.86,127.26 L968.59,127.98 L969.33,128.70 L970.06,129.41 L970.79,130.13 L971.53,130.84 L972.27,131.55 L973.01,132.26 L973.74,132.97 L974.48,133.68 L975.21,134.38 L975.95,135.08 L976.67,135.78 L977.45,136.51 L978.22,137.23 L978.98,137.94 L979.74,138.64 L980.50,139.35 L981.27,140.06 L982.05,140.80 L982.85,141.56 L983.67,142.35 L984.37,143.03 L985.08,143.71 L985.78,144.41 L986.50,145.11 L987.22,145.83 L987.96,146.56 L988.70,147.30 L989.46,148.06 L990.23,148.84 L991.02,149.63 L991.83,150.44 L992.65,151.27 L993.50,152.12 L994.12,152.75 L994.75,153.39 L995.40,154.04 L996.05,154.71 L996.72,155.38 L997.39,156.07 L998.07,156.76 L998.77,157.47 L999.47,158.18 L1000.17,158.91 L1000.89,159.64 L1001.61,160.37 L1002.33,161.11 L1003.06,161.86 L1003.80,162.61 L1004.54,163.37 L1005.28,164.13 L1006.03,164.89 L1006.78,165.65 L1007.52,166.42 L1008.27,167.18 L1009.03,167.95 L1009.78,168.71 L1010.52,169.47 L1011.20,170.16 L1011.87,170.84 L1012.55,171.54 L1013.24,172.23 L1013.93,172.93 L1014.63,173.64 L1015.32,174.35 L1016.03,175.06 L1016.73,175.78 L1017.44,176.50 L1018.15,177.22 L1018.87,177.94 L1019.58,178.67 L1020.30,179.39 L1021.02,180.12 L1021.74,180.85 L1022.46,181.58 L1023.18,182.31 L1023.90,183.04 L1024.62,183.77 L1025.34,184.50 L1026.06,185.23 L1026.78,185.95 L1027.50,186.68 L1028.21,187.40 L1028.92,188.12 L1029.63,188.84 L1030.34,189.56 L1031.05,190.27 L1031.75,190.97 L1032.48,191.71 L1033.21,192.45 L1033.95,193.19 L1034.68,193.93 L1035.42,194.66 L1036.15,195.40 L1036.88,196.14 L1037.62,196.87 L1038.35,197.61 L1039.08,198.35 L1039.82,199.08 L1040.55,199.81 L1041.28,200.54 L1042.01,201.28 L1042.74,202.01 L1043.46,202.73 L1044.19,203.46 L1044.91,204.19 L1045.64,204.91 L1046.36,205.63 L1047.07,206.35 L1047.79,207.07 L1048.50,207.78 L1049.21,208.50 L1049.92,209.21 L1050.62,209.92 L1051.33,210.62 L1052.03,211.32 L1052.78,212.09 L1053.53,212.84 L1054.29,213.60 L1055.04,214.35 L1055.79,215.10 L1056.53,215.85 L1057.28,216.59 L1058.02,217.34 L1058.76,218.08 L1059.50,218.82 L1060.23,219.56 L1060.97,220.29 L1061.70,221.03 L1062.42,221.76 L1063.15,222.49 L1063.87,223.22 L1064.59,223.94 L1065.30,224.67 L1066.01,225.39 L1066.72,226.12 L1067.43,226.84 L1068.13,227.56 L1068.83,228.28 L1069.53,229.00 L1070.26,229.76 L1070.99,230.52 L1071.71,231.27 L1072.43,232.02 L1073.15,232.77 L1073.86,233.52 L1074.57,234.26 L1075.28,235.00 L1075.98,235.74 L1076.68,236.48 L1077.37,237.22 L1078.07,237.96 L1078.76,238.70 L1079.45,239.44 L1080.14,240.18 L1080.83,240.92 L1081.51,241.66 L1082.20,242.41 L1082.88,243.16 L1083.57,243.92 L1084.25,244.68 L1084.93,245.43 L1085.61,246.20 L1086.28,246.96 L1086.95,247.73 L1087.61,248.49 L1088.28,249.26 L1088.94,250.03 L1089.60,250.80 L1090.26,251.58 L1090.92,252.35 L1091.58,253.13 L1092.23,253.90 L1092.89,254.68 L1093.55,255.45 L1094.21,256.23 L1094.87,257.00 L1095.54,257.78 L1096.21,258.55 L1096.88,259.33 L1097.55,260.10 L1098.22,260.88 L1098.89,261.63 L1099.55,262.39 L1100.22,263.15 L1100.88,263.91 L1101.55,264.68 L1102.23,265.44 L1102.90,266.21 L1103.58,266.98 L1104.25,267.75 L1104.93,268.52 L1105.61,269.28 L1106.28,270.05 L1106.96,270.81 L1107.64,271.56 L1108.32,272.32 L1108.99,273.06 L1109.67,273.80 L1110.34,274.54 L1111.02,275.27 L1111.69,275.99 L1112.36,276.70 L1113.03,277.40 L1113.77,278.18 L1114.52,278.95 L1115.27,279.72 L1116.02,280.48 L1116.77,281.23 L1117.52,281.98 L1118.27,282.72 L1119.02,283.45 L1119.77,284.18 L1120.51,284.90 L1121.25,285.62 L1121.99,286.33 L1122.73,287.04 L1123.47,287.74 L1124.20,288.43 L1124.93,289.12 L1125.65,289.80 L1126.38,290.48 L1127.15,291.20 L1127.92,291.91 L1128.67,292.61 L1129.43,293.29 L1130.18,293.97 L1130.92,294.65 L1131.67,295.31 L1132.41,295.98 L1133.16,296.64 L1133.90,297.30 L1134.65,297.96 L1135.41,298.63 L1136.17,299.29 L1136.94,299.97 L1137.72,300.65 L1138.50,301.33 L1139.29,302.01 L1140.08,302.69 L1140.88,303.37 L1141.68,304.05 L1142.48,304.74 L1143.29,305.42 L1144.10,306.11 L1144.92,306.80 L1145.73,307.48 L1146.54,308.17 L1147.36,308.86 L1148.17,309.54 L1148.98,310.23 L1149.79,310.92 L1150.60,311.60 L1150.60,311.60 L1151.43,310.97 L1152.27,310.34 L1153.10,309.70 L1153.94,309.07 L1154.78,308.44 L1155.61,307.80 L1156.45,307.17 L1157.29,306.54 L1158.13,305.91 L1158.96,305.27 L1159.80,304.64 L1160.63,304.01 L1161.46,303.38 L1162.29,302.75 L1163.11,302.12 L1163.94,301.50 L1164.76,300.87 L1165.57,300.25 L1166.41,299.61 L1167.24,298.98 L1168.08,298.34 L1168.92,297.70 L1169.75,297.06 L1170.58,296.43 L1171.42,295.79 L1172.24,295.16 L1173.07,294.53 L1173.89,293.90 L1174.71,293.27 L1175.52,292.65 L1176.32,292.03 L1177.11,291.41 L1177.90,290.80 L1178.68,290.20 L1179.45,289.60 L1180.33,288.91 L1181.20,288.23 L1182.06,287.56 L1182.91,286.89 L1183.76,286.23 L1184.59,285.57 L1185.42,284.91 L1186.24,284.26 L1187.06,283.61 L1187.88,282.95 L1188.69,282.30 L1189.51,281.64 L1190.33,280.98 L1191.12,280.33 L1191.90,279.69 L1192.67,279.06 L1193.44,278.42 L1194.20,277.79 L1194.97,277.16 L1195.73,276.52 L1196.50,275.88 L1197.28,275.23 L1198.06,274.56 L1198.86,273.88 L1199.67,273.19 L1200.50,272.48 L1201.22,271.85 L1201.95,271.22 L1202.69,270.58 L1203.43,269.93 L1204.18,269.27 L1204.93,268.60 L1205.69,267.93 L1206.46,267.25 L1207.23,266.56 L1208.01,265.86 L1208.80,265.16 L1209.59,264.45 L1210.39,263.73 L1211.20,263.00 L1212.02,262.27 L1212.84,261.53 L1213.66,260.78 L1214.50,260.03 L1215.19,259.40 L1215.89,258.76 L1216.60,258.12 L1217.32,257.48 L1218.04,256.82 L1218.76,256.16 L1219.50,255.50 L1220.23,254.83 L1220.97,254.15 L1221.72,253.47 L1222.47,252.79 L1223.22,252.10 L1223.98,251.40 L1224.74,250.71 L1225.51,250.01 L1226.27,249.30 L1227.04,248.59 L1227.81,247.88 L1228.58,247.17 L1229.36,246.45 L1230.13,245.74 L1230.90,245.02 L1231.68,244.30 L1232.45,243.57 L1233.23,242.85 L1234.00,242.12 L1234.71,241.46 L1235.41,240.80 L1236.13,240.13 L1236.84,239.46 L1237.56,238.78 L1238.28,238.10 L1239.01,237.42 L1239.73,236.73 L1240.46,236.04 L1241.19,235.35 L1241.93,234.66 L1242.66,233.97 L1243.39,233.27 L1244.13,232.57 L1244.86,231.87 L1245.60,231.17 L1246.34,230.46 L1247.07,229.76 L1247.81,229.05 L1248.54,228.34 L1249.27,227.64 L1250.01,226.93 L1250.74,226.22 L1251.47,225.51 L1252.19,224.80 L1252.92,224.09 L1253.64,223.38 L1254.36,222.67 L1255.08,221.96 L1255.79,221.26 L1256.50,220.55 L1257.22,219.83 L1257.95,219.10 L1258.67,218.37 L1259.40,217.64 L1260.12,216.91 L1260.85,216.18 L1261.57,215.44 L1262.29,214.70 L1263.02,213.96 L1263.74,213.23 L1264.46,212.49 L1265.18,211.75 L1265.89,211.01 L1266.61,210.27 L1267.32,209.53 L1268.04,208.79 L1268.74,208.05 L1269.45,207.31 L1270.16,206.57 L1270.86,205.83 L1271.55,205.10 L1272.25,204.36 L1272.94,203.63 L1273.63,202.90 L1274.31,202.17 L1275.00,201.45 L1275.67,200.73 L1276.34,200.01 L1277.01,199.29 L1277.67,198.57 L1278.40,197.79 L1279.11,197.01 L1279.83,196.23 L1280.54,195.46 L1281.24,194.68 L1281.94,193.90 L1282.63,193.13 L1283.32,192.36 L1284.01,191.58 L1284.69,190.81 L1285.38,190.05 L1286.05,189.28 L1286.73,188.52 L1287.40,187.75 L1288.07,186.99 L1288.74,186.24 L1289.40,185.48 L1290.07,184.73 L1290.73,183.98 L1291.39,183.24 L1292.05,182.49 L1292.70,181.75 L1293.36,181.01 L1294.02,180.28 L1294.67,179.55 L1295.39,178.75 L1296.11,177.95 L1296.82,177.16 L1297.52,176.37 L1298.23,175.58 L1298.92,174.80 L1299.62,174.02 L1300.31,173.25 L1301.00,172.47 L1301.69,171.70 L1302.38,170.93 L1303.07,170.17 L1303.76,169.41 L1304.45,168.65 L1305.14,167.89 L1305.83,167.14 L1306.52,166.38 L1307.22,165.64 L1307.92,164.89 L1308.62,164.14 L1309.33,163.40 L1310.05,162.64 L1310.78,161.88 L1311.51,161.13 L1312.24,160.37 L1312.98,159.62 L1313.72,158.87 L1314.46,158.12 L1315.19,157.37 L1315.93,156.63 L1316.67,155.89 L1317.41,155.15 L1318.15,154.42 L1318.89,153.69 L1319.63,152.97 L1320.36,152.25 L1321.10,151.54 L1321.83,150.83 L1322.55,150.13 L1323.28,149.44 L1324.00,148.75 L1324.78,148.01 L1325.56,147.27 L1326.35,146.54 L1327.13,145.80 L1327.92,145.08 L1328.70,144.35 L1329.49,143.64 L1330.27,142.93 L1331.04,142.23 L1331.81,141.53 L1332.58,140.84 L1333.34,140.17 L1334.09,139.50 L1334.83,138.85 L1335.57,138.20 L1336.29,137.57 L1337.00,136.95 L1337.89,136.18 L1338.78,135.42 L1339.65,134.68 L1340.50,133.95 L1341.35,133.24 L1342.19,132.55 L1343.01,131.87 L1343.83,131.20 L1344.63,130.55 L1345.43,129.92 L1346.22,129.30 L1347.13,128.60 L1348.01,127.93 L1348.88,127.27 L1349.73,126.64 L1350.58,126.02 L1351.43,125.42 L1352.28,124.83 L1353.15,124.25 L1354.11,123.62 L1355.07,123.01 L1356.03,122.41 L1356.99,121.83 L1357.96,121.27 L1358.93,120.73 L1359.90,120.20 L1360.85,119.71 L1361.80,119.24 L1362.76,118.78 L1363.71,118.34 L1364.67,117.92 L1365.64,117.52 L1366.60,117.12 L1367.69,116.68 L1368.77,116.21 L1369.86,115.77 L1370.95,115.39 L1372.06,115.08 L1373.20,114.90 L1374.24,114.85 L1375.29,114.90 L1376.35,115.02 L1377.42,115.20 L1378.51,115.41 L1379.61,115.63 L1380.72,115.85 L1381.69,116.05 L1382.65,116.28 L1383.62,116.53 L1384.60,116.79 L1385.60,117.07 L1386.60,117.35 L1387.63,117.61 L1388.68,117.87 L1389.75,118.10 L1390.70,118.29 L1391.66,118.47 L1392.64,118.65 L1393.62,118.83 L1394.62,119.00 L1395.64,119.16 L1396.67,119.32 L1397.72,119.47 L1398.78,119.62 L1399.86,119.75 L1400.96,119.88 L1402.07,120.00 L1403.03,120.09 L1404.01,120.17 L1405.00,120.25 L1406.00,120.31 L1407.02,120.37 L1408.05,120.43 L1409.09,120.47 L1410.14,120.52 L1411.20,120.56 L1412.27,120.60 L1413.34,120.64 L1414.42,120.67 L1415.51,120.71 L1416.60,120.75 L1417.69,120.79 L1418.78,120.83 L1419.88,120.88 L1420.85,120.92 L1421.82,120.96 L1422.81,121.00 L1423.80,121.04 L1424.80,121.08 L1425.80,121.12 L1426.81,121.16 L1427.82,121.20 L1428.84,121.24 L1429.86,121.28 L1430.88,121.32 L1431.91,121.35 L1432.93,121.39 L1433.96,121.43 L1434.98,121.47 L1436.01,121.51 L1437.03,121.54 L1438.05,121.58 L1439.07,121.62 L1440.09,121.66 L1441.10,121.70" fill="none" stroke="#FFC000" stroke-width="6.0" stroke-linecap="round" stroke-linejoin="round"/>
<path d="M905.90,94.90 L906.94,95.23 L907.98,95.57 L909.03,95.90 L910.07,96.24 L911.12,96.58 L912.16,96.91 L913.21,97.25 L914.24,97.58 L915.27,97.91 L916.29,98.23 L917.30,98.55 L918.34,98.87 L919.37,99.18 L920.40,99.48 L921.42,99.78 L922.44,100.08 L923.44,100.38 L924.44,100.69 L925.43,101.00 L926.41,101.33 L927.38,101.67 L928.38,102.04 L929.38,102.41 L930.37,102.79 L931.35,103.17 L932.32,103.56 L933.27,103.97 L934.20,104.41 L935.11,104.86 L936.00,105.35 L936.92,105.90 L937.83,106.47 L938.72,107.06 L939.59,107.68 L940.43,108.32 L941.24,108.98 L942.01,109.67 L942.75,110.38 L943.51,111.17 L944.22,112.00 L944.89,112.86 L945.53,113.74 L946.14,114.64 L946.74,115.56 L947.32,116.50 L947.84,117.37 L948.32,118.25 L948.79,119.15 L949.24,120.07 L949.68,121.00 L950.12,121.95 L950.56,122.90 L951.00,123.85 L951.42,124.76 L951.84,125.67 L952.25,126.60 L952.66,127.54 L953.07,128.48 L953.47,129.43 L953.88,130.38 L954.28,131.34 L954.67,132.30 L955.08,133.29 L955.47,134.28 L955.87,135.27 L956.25,136.26 L956.64,137.27 L957.03,138.28 L957.43,139.30 L957.83,140.33 L958.25,141.38 L958.63,142.33 L959.00,143.29 L959.38,144.25 L959.76,145.23 L960.14,146.21 L960.53,147.21 L960.94,148.21 L961.35,149.21 L961.78,150.23 L962.23,151.25 L962.70,152.28 L963.10,153.14 L963.52,154.02 L963.94,154.91 L964.37,155.80 L964.80,156.70 L965.25,157.61 L965.71,158.52 L966.18,159.43 L966.66,160.35 L967.15,161.26 L967.65,162.17 L968.17,163.07 L968.70,163.97 L969.24,164.87 L969.80,165.75 L970.34,166.58 L970.89,167.41 L971.45,168.25 L972.03,169.08 L972.61,169.92 L973.21,170.75 L973.82,171.58 L974.43,172.40 L975.06,173.23 L975.70,174.04 L976.35,174.85 L977.01,175.65 L977.67,176.45 L978.35,177.23 L979.03,178.01 L979.72,178.77 L980.42,179.53 L981.15,180.28 L981.89,181.02 L982.64,181.76 L983.41,182.49 L984.19,183.21 L984.97,183.93 L985.77,184.63 L986.58,185.33 L987.39,186.02 L988.21,186.71 L989.03,187.38 L989.86,188.05 L990.69,188.71 L991.52,189.36 L992.35,190.01 L993.17,190.65 L994.00,191.28 L994.85,191.91 L995.71,192.53 L996.57,193.14 L997.44,193.74 L998.31,194.33 L999.19,194.91 L1000.06,195.48 L1000.95,196.05 L1001.83,196.61 L1002.71,197.17 L1003.59,197.73 L1004.47,198.28 L1005.34,198.84 L1006.22,199.40 L1007.09,199.96 L1007.95,200.52 L1008.84,201.11 L1009.73,201.69 L1010.61,202.27 L1011.49,202.84 L1012.36,203.41 L1013.24,203.97 L1014.11,204.54 L1014.98,205.11 L1015.86,205.68 L1016.74,206.25 L1017.61,206.83 L1018.50,207.41 L1019.38,208.00 L1020.28,208.60 L1021.18,209.20 L1022.02,209.78 L1022.87,210.36 L1023.72,210.95 L1024.57,211.54 L1025.42,212.14 L1026.27,212.75 L1027.13,213.35 L1027.98,213.96 L1028.85,214.57 L1029.71,215.18 L1030.58,215.80 L1031.45,216.41 L1032.33,217.02 L1033.22,217.62 L1034.10,218.23 L1035.00,218.83 L1035.90,219.43 L1036.76,219.99 L1037.62,220.55 L1038.49,221.11 L1039.36,221.68 L1040.24,222.25 L1041.13,222.82 L1042.02,223.39 L1042.91,223.95 L1043.81,224.52 L1044.71,225.08 L1045.61,225.64 L1046.51,226.19 L1047.41,226.74 L1048.31,227.28 L1049.22,227.81 L1050.12,228.34 L1051.01,228.86 L1051.91,229.37 L1052.80,229.88 L1053.70,230.37 L1054.59,230.87 L1055.50,231.36 L1056.40,231.84 L1057.30,232.32 L1058.21,232.80 L1059.12,233.27 L1060.02,233.74 L1060.92,234.19 L1061.83,234.64 L1062.73,235.09 L1063.62,235.52 L1064.51,235.95 L1065.40,236.36 L1066.29,236.77 L1067.16,237.17 L1068.04,237.55 L1068.90,237.93 L1069.87,238.34 L1070.84,238.74 L1071.80,239.13 L1072.76,239.50 L1073.71,239.87 L1074.66,240.22 L1075.60,240.56 L1076.54,240.90 L1077.47,241.22 L1078.40,241.53 L1079.34,241.83 L1080.27,242.12 L1081.20,242.40 L1082.12,242.68 L1083.13,242.97 L1084.14,243.27 L1085.13,243.56 L1086.13,243.85 L1087.12,244.13 L1088.11,244.39 L1089.10,244.62 L1090.09,244.83 L1091.08,245.01 L1092.08,245.15 L1093.09,245.25 L1094.10,245.30 L1095.15,245.30 L1096.20,245.25 L1097.26,245.17 L1098.32,245.04 L1099.38,244.88 L1100.45,244.68 L1101.52,244.47 L1102.59,244.23 L1103.66,243.98 L1104.72,243.72 L1105.79,243.45 L1106.85,243.18 L1107.87,242.90 L1108.89,242.62 L1109.92,242.31 L1110.94,241.99 L1111.97,241.66 L1112.99,241.31 L1114.02,240.95 L1115.04,240.57 L1116.05,240.19 L1117.06,239.79 L1118.07,239.38 L1119.06,238.97 L1120.05,238.55 L1121.03,238.12 L1122.00,237.67 L1122.98,237.21 L1123.95,236.74 L1124.91,236.25 L1125.87,235.76 L1126.82,235.26 L1127.77,234.75 L1128.70,234.24 L1129.63,233.72 L1130.55,233.21 L1131.46,232.69 L1132.35,232.18 L1133.32,231.61 L1134.28,231.04 L1135.23,230.46 L1136.17,229.88 L1137.09,229.29 L1138.01,228.71 L1138.92,228.11 L1139.82,227.52 L1140.70,226.92 L1141.58,226.32 L1142.45,225.72 L1143.33,225.10 L1144.19,224.47 L1145.03,223.83 L1145.86,223.19 L1146.69,222.55 L1147.51,221.91 L1148.33,221.27 L1149.15,220.64 L1149.98,220.03 L1150.83,219.43 L1151.65,218.84 L1152.48,218.26 L1153.30,217.67 L1154.13,217.10 L1154.96,216.53 L1155.79,215.97 L1156.63,215.43 L1157.48,214.91 L1158.33,214.42 L1159.20,213.95 L1160.14,213.48 L1161.08,213.04 L1162.02,212.63 L1162.97,212.24 L1163.94,211.87 L1164.92,211.51 L1165.92,211.16 L1166.94,210.81 L1168.00,210.45 L1168.95,210.14 L1169.91,209.85 L1170.89,209.57 L1171.89,209.29 L1172.91,209.02 L1173.94,208.75 L1174.99,208.48 L1176.04,208.21 L1177.12,207.94 L1178.20,207.65 L1179.29,207.36 L1180.40,207.05 L1181.32,206.79 L1182.26,206.52 L1183.21,206.25 L1184.18,205.98 L1185.15,205.70 L1186.14,205.42 L1187.13,205.14 L1188.13,204.85 L1189.14,204.56 L1190.15,204.27 L1191.16,203.97 L1192.17,203.67 L1193.19,203.37 L1194.20,203.06 L1195.20,202.75 L1196.20,202.44 L1197.20,202.12 L1198.16,201.82 L1199.11,201.51 L1200.07,201.20 L1201.02,200.89 L1201.97,200.57 L1202.93,200.25 L1203.88,199.93 L1204.83,199.61 L1205.79,199.28 L1206.75,198.95 L1207.70,198.62 L1208.67,198.28 L1209.63,197.94 L1210.60,197.59 L1211.57,197.24 L1212.54,196.88 L1213.52,196.52 L1214.50,196.15 L1215.41,195.81 L1216.31,195.46 L1217.22,195.11 L1218.13,194.76 L1219.05,194.40 L1219.96,194.04 L1220.88,193.67 L1221.80,193.30 L1222.72,192.93 L1223.65,192.55 L1224.57,192.17 L1225.50,191.79 L1226.44,191.40 L1227.37,191.02 L1228.31,190.62 L1229.25,190.23 L1230.19,189.83 L1231.14,189.44 L1232.09,189.03 L1233.04,188.63 L1234.00,188.22 L1234.91,187.84 L1235.83,187.45 L1236.75,187.05 L1237.67,186.65 L1238.60,186.25 L1239.54,185.84 L1240.48,185.43 L1241.42,185.02 L1242.36,184.61 L1243.31,184.19 L1244.26,183.77 L1245.21,183.35 L1246.16,182.93 L1247.11,182.51 L1248.06,182.08 L1249.00,181.66 L1249.95,181.24 L1250.90,180.81 L1251.84,180.39 L1252.78,179.96 L1253.72,179.54 L1254.65,179.12 L1255.58,178.69 L1256.50,178.27 L1257.44,177.85 L1258.38,177.42 L1259.32,176.99 L1260.26,176.56 L1261.20,176.13 L1262.14,175.69 L1263.08,175.26 L1264.02,174.82 L1264.95,174.39 L1265.89,173.96 L1266.82,173.52 L1267.75,173.09 L1268.68,172.65 L1269.60,172.22 L1270.52,171.79 L1271.43,171.35 L1272.34,170.92 L1273.25,170.49 L1274.15,170.07 L1275.04,169.64 L1275.92,169.22 L1276.80,168.79 L1277.67,168.38 L1278.67,167.89 L1279.66,167.42 L1280.64,166.94 L1281.61,166.46 L1282.58,165.99 L1283.54,165.52 L1284.49,165.05 L1285.44,164.58 L1286.38,164.11 L1287.32,163.64 L1288.25,163.18 L1289.18,162.71 L1290.11,162.25 L1291.03,161.78 L1291.94,161.32 L1292.86,160.85 L1293.77,160.39 L1294.67,159.93 L1295.62,159.44 L1296.56,158.95 L1297.49,158.46 L1298.42,157.98 L1299.33,157.50 L1300.25,157.01 L1301.15,156.53 L1302.06,156.05 L1302.96,155.56 L1303.87,155.08 L1304.77,154.60 L1305.67,154.12 L1306.58,153.64 L1307.49,153.16 L1308.41,152.68 L1309.33,152.20 L1310.25,151.72 L1311.18,151.23 L1312.11,150.75 L1313.04,150.27 L1313.97,149.79 L1314.89,149.30 L1315.82,148.82 L1316.75,148.34 L1317.69,147.86 L1318.62,147.38 L1319.56,146.90 L1320.51,146.43 L1321.45,145.95 L1322.41,145.47 L1323.36,145.00 L1324.33,144.53 L1325.22,144.09 L1326.12,143.65 L1327.03,143.21 L1327.93,142.78 L1328.84,142.34 L1329.75,141.91 L1330.66,141.47 L1331.58,141.04 L1332.50,140.61 L1333.43,140.17 L1334.35,139.74 L1335.29,139.31 L1336.22,138.88 L1337.16,138.45 L1338.10,138.02 L1339.05,137.59 L1340.00,137.16 L1340.95,136.72 L1341.86,136.32 L1342.78,135.91 L1343.70,135.50 L1344.63,135.09 L1345.56,134.68 L1346.49,134.27 L1347.43,133.86 L1348.37,133.45 L1349.31,133.04 L1350.26,132.63 L1351.21,132.23 L1352.16,131.82 L1353.11,131.41 L1354.06,131.01 L1355.02,130.60 L1355.97,130.19 L1356.93,129.79 L1357.89,129.38 L1358.84,128.98 L1359.80,128.57 L1360.73,128.18 L1361.67,127.79 L1362.61,127.39 L1363.55,126.99 L1364.50,126.59 L1365.45,126.19 L1366.40,125.80 L1367.35,125.40 L1368.30,125.00 L1369.26,124.60 L1370.21,124.21 L1371.16,123.82 L1372.11,123.42 L1373.06,123.03 L1374.01,122.65 L1374.96,122.26 L1375.90,121.88 L1376.85,121.51 L1377.78,121.13 L1378.72,120.76 L1379.65,120.40 L1380.63,120.02 L1381.61,119.64 L1382.58,119.25 L1383.56,118.87 L1384.54,118.49 L1385.51,118.11 L1386.49,117.74 L1387.46,117.37 L1388.43,117.00 L1389.40,116.64 L1390.36,116.28 L1391.32,115.92 L1392.28,115.58 L1393.23,115.24 L1394.17,114.91 L1395.11,114.59 L1396.05,114.27 L1396.98,113.97 L1397.90,113.67 L1398.94,113.35 L1399.97,113.03 L1401.01,112.70 L1402.04,112.39 L1403.06,112.08 L1404.09,111.78 L1405.10,111.49 L1406.11,111.21 L1407.10,110.95 L1408.09,110.70 L1409.06,110.47 L1410.02,110.27 L1410.96,110.09 L1411.89,109.93 L1412.80,109.80 L1413.98,109.67 L1415.13,109.59 L1416.25,109.54 L1417.35,109.53 L1418.44,109.55 L1419.51,109.59 L1420.57,109.65 L1421.63,109.72 L1422.70,109.80 L1423.72,109.90 L1424.73,110.03 L1425.72,110.19 L1426.71,110.36 L1427.70,110.55 L1428.69,110.73 L1429.69,110.90 L1430.70,111.06 L1431.72,111.20 L1432.71,111.31 L1433.70,111.40 L1434.70,111.49 L1435.71,111.57 L1436.73,111.64 L1437.74,111.71 L1438.76,111.78 L1439.78,111.85 L1440.79,111.92 L1441.80,112.00" fill="none" stroke="#0070C0" stroke-width="6.0" stroke-linecap="round" stroke-linejoin="round"/>
<line x1="1319" y1="283.4" x2="1354" y2="283.4" stroke="#FF0000" stroke-width="6" stroke-linecap="round"/>
<line x1="1319" y1="359.3" x2="1354" y2="359.3" stroke="#FFC000" stroke-width="6" stroke-linecap="round"/>
<line x1="1319" y1="435.3" x2="1354" y2="435.3" stroke="#0070C0" stroke-width="6" stroke-linecap="round"/>
<text transform="matrix(0.24251 0 0 0.33972 1360.13 294.86)" fill="#000" stroke="#000" stroke-width="0.35" vector-effect="non-scaling-stroke">K0=0.5</text>
<text transform="matrix(0.23655 0 0 0.33262 1360.18 370.46)" fill="#000" stroke="#000" stroke-width="0.35" vector-effect="non-scaling-stroke">K0=1</text>
<text transform="matrix(0.24251 0 0 0.33121 1360.13 445.96)" fill="#000" stroke="#000" stroke-width="0.35" vector-effect="non-scaling-stroke">K0=1.5</text>
<text transform="matrix(0.14631 0 0 0.22057 369.39 575.81)" fill="#383838" stroke="#383838" stroke-width="0.75" vector-effect="non-scaling-stroke">0,E+00</text>
<text transform="matrix(0.14870 0 0 0.22057 368.79 490.88)" fill="#383838" stroke="#383838" stroke-width="0.75" vector-effect="non-scaling-stroke">1,E+06</text>
<text transform="matrix(0.14726 0 0 0.22057 369.24 405.95)" fill="#383838" stroke="#383838" stroke-width="0.75" vector-effect="non-scaling-stroke">2,E+06</text>
<text transform="matrix(0.14678 0 0 0.22057 369.39 321.02)" fill="#383838" stroke="#383838" stroke-width="0.75" vector-effect="non-scaling-stroke">3,E+06</text>
<text transform="matrix(0.14585 0 0 0.22057 369.68 236.09)" fill="#383838" stroke="#383838" stroke-width="0.75" vector-effect="non-scaling-stroke">4,E+06</text>
<text transform="matrix(0.14678 0 0 0.22057 369.39 151.16)" fill="#383838" stroke="#383838" stroke-width="0.75" vector-effect="non-scaling-stroke">5,E+06</text>
<text transform="matrix(0.14726 0 0 0.22057 369.24 66.23)" fill="#383838" stroke="#383838" stroke-width="0.75" vector-effect="non-scaling-stroke">6,E+06</text>
<text transform="matrix(0.15529 0 0 0.21631 1114.75 565.12)" fill="#383838" stroke="#383838" stroke-width="0.75" vector-effect="non-scaling-stroke">0,E+00</text>
<text transform="matrix(0.15629 0 0 0.21631 1114.59 496.98)" fill="#383838" stroke="#383838" stroke-width="0.75" vector-effect="non-scaling-stroke">2,E+06</text>
<text transform="matrix(0.15479 0 0 0.21631 1115.07 428.84)" fill="#383838" stroke="#383838" stroke-width="0.75" vector-effect="non-scaling-stroke">4,E+06</text>
<text transform="matrix(0.15629 0 0 0.21631 1114.59 360.70)" fill="#383838" stroke="#383838" stroke-width="0.75" vector-effect="non-scaling-stroke">6,E+06</text>
<text transform="matrix(0.15579 0 0 0.21631 1114.75 292.56)" fill="#383838" stroke="#383838" stroke-width="0.75" vector-effect="non-scaling-stroke">8,E+06</text>
<text transform="matrix(0.15326 0 0 0.20496 1115.15 224.72)" fill="#383838" stroke="#383838" stroke-width="0.75" vector-effect="non-scaling-stroke">1,E+07</text>
<text transform="matrix(0.16630 0 0 0.22270 1109.97 155.89)" fill="#202020">1,2E+07</text>
<text transform="matrix(0.19251 0 0 0.25106 1109.76 92.57)" fill="#202020">1,4E+7</text>
<text transform="matrix(0.19870 0 0 0.23404 1112.91 23.38)" fill="#202020">1,6E+7</text>
</g>
</svg>
</body></html>
